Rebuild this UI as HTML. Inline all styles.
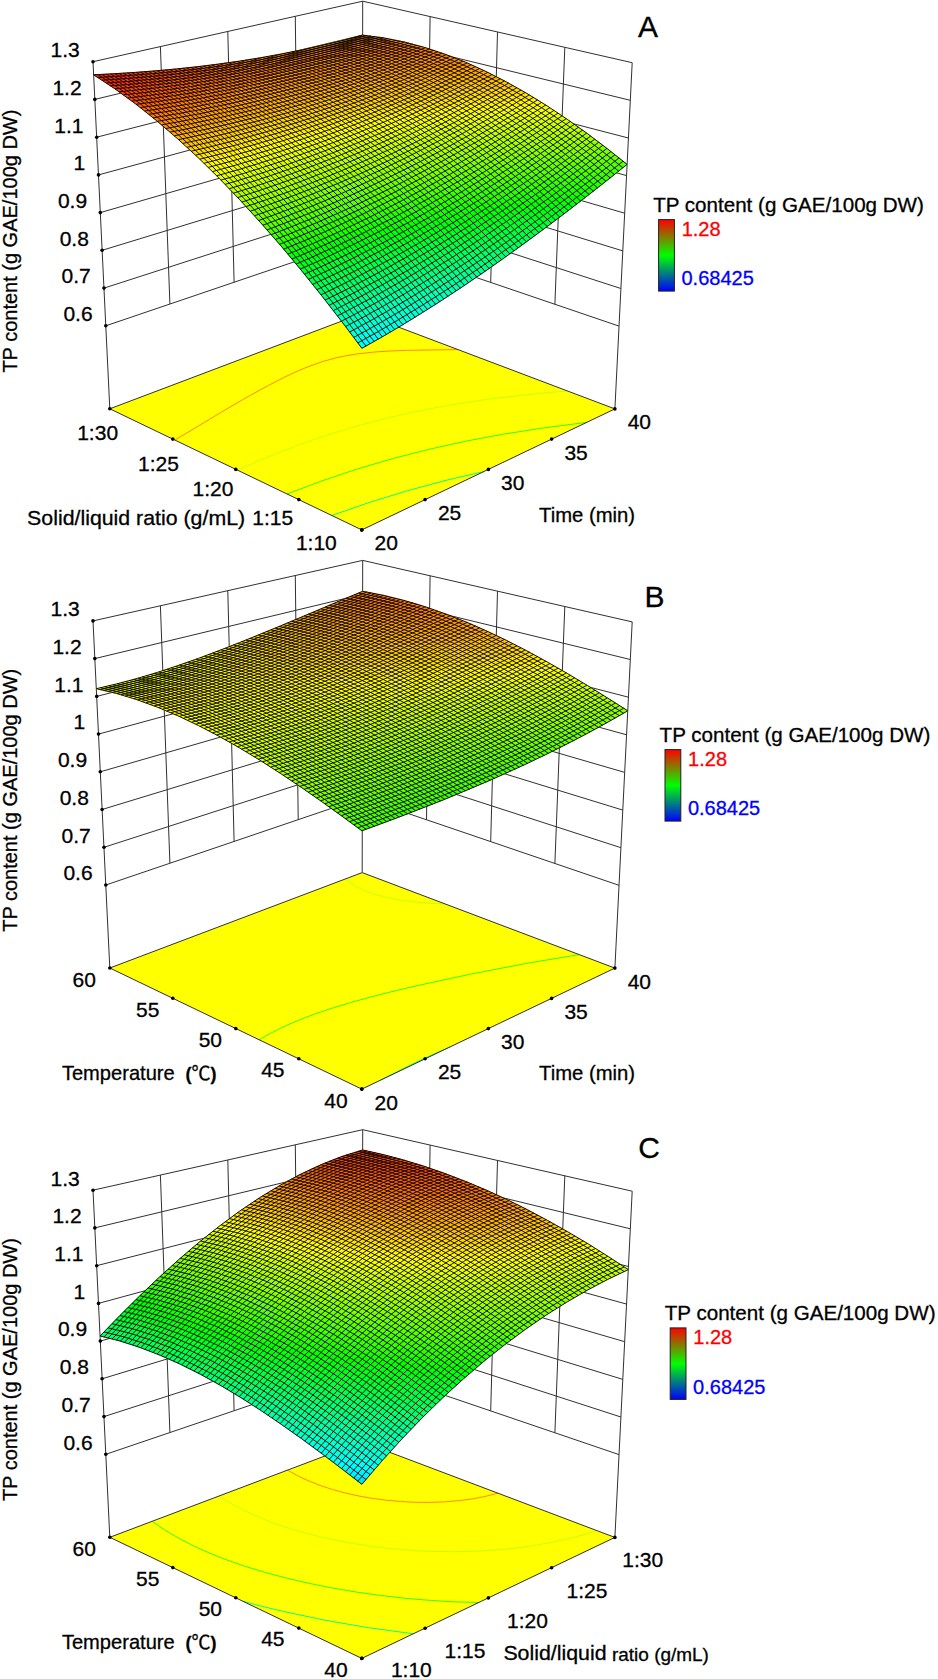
<!DOCTYPE html><html><head><meta charset="utf-8"><style>html,body{margin:0;padding:0;background:#fff}svg{display:block}text{font-family:"Liberation Sans",Arial,sans-serif;stroke:currentColor;stroke-width:0.3px}</style></head><body>
<svg width="938" height="1679" viewBox="0 0 938 1679">
<rect width="938" height="1679" fill="#fff"/>
<path d="M105.8 325.8L362.3 238.7L619 326.1M104 288.1L362.4 204.8L620.9 288.5M102.1 250.3L362.4 170.9L622.8 250.9M100.3 212.6L362.5 136.9L624.7 213.2M98.5 174.9L362.5 103L626.6 175.6M96.7 137.2L362.6 69.1L628.4 138M94.8 99.4L362.6 35.1L630.3 100.3M93 61.7L362.7 1.2L632.2 62.7M169.9 304L160.4 46.6M554.9 304.3L564.8 47.3M234.1 282.3L227.8 31.5M490.7 282.4L497.5 32M298.2 260.5L295.3 16.3M426.5 260.6L430.1 16.6M109.8 408.8L93 61.7M362.2 313.4L362.7 1.2M614.9 408.9L632.2 62.7" fill="none" stroke="#303030" stroke-width="1"/>
<polygon points="361.8,529.9 614.9,408.9 362.2,313.4 109.8,408.8" fill="#ffff00"/>
<polyline points="458.1,349.6 407.4,350.3 388.1,351.1 373.7,352.1 357.2,353.9 345.3,355.9 334.5,358.2 322.2,361.7 311,365.6 298.6,370.6 285,376.9 268.4,385.4 248.8,396.2 228,408.2 174.9,440.1" fill="none" stroke="#ff8c00" stroke-width="1"/>
<polyline points="567.2,390.9 519.3,395.5 495,398.4 471.9,401.6 449.7,405.2 428.6,409 408.3,413.2 388.9,417.6 370.3,422.4 352.4,427.4 332.7,433.4 313.7,439.7 295.4,446.3 275.5,453.9 256.2,461.9 237.4,470.1" fill="none" stroke="#c8ff00" stroke-width="1"/>
<polyline points="586.7,422.4 542.4,428.1 503.1,434.2 466.2,441.1 428.6,449.4 393.4,458.4 357.6,468.9 321.3,481.1 287,494" fill="none" stroke="#30ff00" stroke-width="1"/>
<polyline points="484.1,471.5 444,480.8 406.2,491.1 368,502.9 331.8,515.5" fill="none" stroke="#00ff8c" stroke-width="1"/>
<polygon points="361.8,529.9 614.9,408.9 362.2,313.4 109.8,408.8" fill="none" stroke="#303030" stroke-width="1"/>
<g fill="#000"><circle cx="105.8" cy="325.8" r="1.8"/><circle cx="104" cy="288.1" r="1.8"/><circle cx="102.1" cy="250.3" r="1.8"/><circle cx="100.3" cy="212.6" r="1.8"/><circle cx="98.5" cy="174.9" r="1.8"/><circle cx="96.7" cy="137.2" r="1.8"/><circle cx="94.8" cy="99.4" r="1.8"/><circle cx="93" cy="61.7" r="1.8"/><circle cx="361.8" cy="529.9" r="1.8"/><circle cx="361.8" cy="529.9" r="1.8"/><circle cx="298.8" cy="499.6" r="1.8"/><circle cx="425.1" cy="499.6" r="1.8"/><circle cx="235.8" cy="469.4" r="1.8"/><circle cx="488.4" cy="469.4" r="1.8"/><circle cx="172.8" cy="439.1" r="1.8"/><circle cx="551.6" cy="439.1" r="1.8"/><circle cx="109.8" cy="408.8" r="1.8"/><circle cx="614.9" cy="408.9" r="1.8"/></g>
<path d="M363.7 346.6L366.7 345.7L361.9 348.3L361.2 347.3Z" fill="#00f1ff" stroke="#00f1ff" stroke-width="0.6" fill-rule="evenodd"/>
<path d="M359.7 345.4L356.8 341.5L391.7 331.3L366.7 345.7L361.2 347.3Z" fill="#00fffc" stroke="#00fffc" stroke-width="0.6" fill-rule="evenodd"/>
<path d="M355.4 339.6L352.4 335.6L382.8 326.7L412.7 318.7L391.7 331.3L356.8 341.5Z" fill="#00ffeb" stroke="#00ffeb" stroke-width="0.6" fill-rule="evenodd"/>
<path d="M351 333.8L348 329.8L388.7 318L431.1 307.2L412.7 318.7L382.8 326.7L352.4 335.6Z" fill="#00ffda" stroke="#00ffda" stroke-width="0.6" fill-rule="evenodd"/>
<path d="M346.7 328L343.5 323.9L394.6 309.3L447.8 296.4L431.1 307.2L388.7 318L348 329.8Z" fill="#00ffc9" stroke="#00ffc9" stroke-width="0.6" fill-rule="evenodd"/>
<path d="M342.3 322.3L339.1 318L349 315L376.9 307L406 299.4L463.2 286.2L447.8 296.4L394.6 309.3L343.5 323.9Z" fill="#00ffb7" stroke="#00ffb7" stroke-width="0.6" fill-rule="evenodd"/>
<path d="M338 316.6L334.5 312.2L356.9 305.5L385.3 297.7L414.8 290.2L445.7 283.1L477.5 276.5L463.2 286.2L430.7 293.4L400.6 300.7L369.2 309.2L339.1 318Z" fill="#00ffa6" stroke="#00ffa6" stroke-width="0.6" fill-rule="evenodd"/>
<path d="M333.6 310.9L330 306.3L365 296L396.4 287.7L426.5 280.5L458.1 273.6L491 267.2L477.5 276.5L440 284.4L403.9 292.9L369.7 301.9L334.5 312.2Z" fill="#00ff95" stroke="#00ff95" stroke-width="0.6" fill-rule="evenodd"/>
<path d="M329.2 305.3L325.4 300.4L370.5 287.4L402.3 279.2L435.6 271.5L470.7 264.3L503.9 258.1L491 267.2L455.1 274.2L418.2 282.4L372.7 293.9L330 306.3Z" fill="#00ff84" stroke="#00ff84" stroke-width="0.6" fill-rule="evenodd"/>
<path d="M324.8 299.7L320.8 294.5L373.5 279.5L408.2 270.8L442 263.3L477.5 256.2L516.1 249.4L503.9 258.1L461.8 266L418.8 275.3L370.5 287.4L325.4 300.4Z" fill="#00ff73" stroke="#00ff73" stroke-width="0.6" fill-rule="evenodd"/>
<path d="M320.4 294.1L316.1 288.7L345.6 279.9L376.4 271.6L411.4 263.1L448.4 255.1L487.5 247.6L527.8 240.9L516.1 249.4L465.5 258.5L419.3 268.2L376.1 278.8L347.9 286.5L320.8 294.5Z" fill="#00ff62" stroke="#00ff62" stroke-width="0.6" fill-rule="evenodd"/>
<path d="M316 288.6L311.4 282.8L345.8 272.6L379.3 263.7L417.4 254.7L457.8 246.3L497.7 239.1L539.1 232.5L527.8 240.9L472.2 250.4L419.8 261.2L368.6 273.6Z" fill="#00ff51" stroke="#00ff51" stroke-width="0.6" fill-rule="evenodd"/>
<path d="M309.4 280.3L306.7 276.9L351 264L398.4 252.1L434.8 244L470.4 237.1L508 230.7L550 224.4L539.1 232.5L488.2 240.7L437.3 250.4L406.3 257.2L374.1 265.1L343.3 273.3L311.4 282.8Z" fill="#00ff40" stroke="#00ff40" stroke-width="0.6" fill-rule="evenodd"/>
<path d="M305 274.9L301.8 271L348.5 257.4L398.6 245L438.1 236.5L477 229.1L518.5 222.4L560.6 216.4L550 224.4L492 233.3L434.8 244L401.1 251.4L369 259.2L338.4 267.5L306.7 276.9Z" fill="#00ff2e" stroke="#00ff2e" stroke-width="0.6" fill-rule="evenodd"/>
<path d="M300.6 269.5L297 265.1L346 250.9L398.7 237.9L438.3 229.5L480.6 221.7L525.9 214.6L570.9 208.6L560.6 216.4L495.9 225.9L435.2 237L401.3 244.3L366.5 252.7L333.4 261.6L301.8 271Z" fill="#00ff1d" stroke="#00ff1d" stroke-width="0.6" fill-rule="evenodd"/>
<path d="M296.2 264.1L292.1 259.2L318.5 251.3L345.9 243.7L398.8 230.8L441.5 222L484.2 214.4L530 207.4L580.9 200.9L570.9 208.6L532.7 213.7L496.4 219.1L462.2 225L429.6 231.2L398.7 237.9L371.8 244.2L333.4 254.3L297 265.1Z" fill="#00ff0c" stroke="#00ff0c" stroke-width="0.6" fill-rule="evenodd"/>
<path d="M291.8 258.8L287.1 253.3L315.8 244.6L343.2 237.1L371.7 229.9L398.7 223.7L444.6 214.4L490.9 206.5L537.5 199.8L590.6 193.4L580.9 200.9L540.3 206L500.2 211.8L462.5 218.1L429.8 224.2L396 231.4L363.9 239L328.3 248.5L292.1 259.2Z" fill="#05ff00" stroke="#05ff00" stroke-width="0.6" fill-rule="evenodd"/>
<path d="M285.1 250.9L282.1 247.3L305.8 240.1L358.3 226L409.8 214.3L453.7 205.9L497.7 198.7L548.7 191.8L600.1 185.9L590.6 193.4L548 198.4L510.5 203.5L475.1 209.1L441.6 215L401.5 223.1L361.2 232.5L323.2 242.6L287.1 253.3Z" fill="#16ff00" stroke="#16ff00" stroke-width="0.6" fill-rule="evenodd"/>
<path d="M280.7 245.6L277 241.4L295.8 235.6L324.9 227.3L352.8 220.1L379.2 213.8L409.6 207.3L456.7 198.5L504.6 191L552.8 184.7L609.4 178.6L600.1 185.9L555.8 190.9L514.2 196.3L475.3 202.2L438.7 208.6L398.6 216.7L358.3 226L320.4 236L282.1 247.3Z" fill="#27ff00" stroke="#27ff00" stroke-width="0.6" fill-rule="evenodd"/>
<path d="M276.2 240.4L271.9 235.4L285.8 231.1L314.6 222.7L344.6 214.8L376.1 207.3L406.4 200.8L453.6 192.1L504.8 184.2L557 177.7L618.4 171.4L609.4 178.6L552.8 184.7L504.6 191L456.7 198.5L412.4 206.7L381.9 213.2L352.8 220.1L315.1 230L277 241.4Z" fill="#38ff00" stroke="#38ff00" stroke-width="0.6" fill-rule="evenodd"/>
<path d="M271.8 235.3L266.7 229.5L273.6 227.3L306.7 217.5L338.9 208.9L370.2 201.4L403.2 194.3L453.3 185.2L508.2 177L568.6 169.9L627.1 164.4L618.4 171.4L557 177.7L504.8 184.2L456.6 191.6L409.3 200.2L373.4 207.9L339.5 216.1L307.3 224.8Z" fill="#49ff00" stroke="#49ff00" stroke-width="0.6" fill-rule="evenodd"/>
<path d="M265.1 227.7L261.4 223.5L310.8 208.8L340.7 201L369.5 194.2L399.7 187.8L431.7 181.9L471.9 175.3L511.6 169.9L557.9 164.5L603.8 159.9L619.8 158.5L626.9 164.3L572.3 169.5L525.4 174.8L478.5 181.2L438.1 187.8L394.7 196L351.7 205.7L309.1 216.8L266.7 229.5Z" fill="#5bff00" stroke="#5bff00" stroke-width="0.6" fill-rule="evenodd"/>
<path d="M260.7 222.6L256 217.5L293.1 206.2L324.7 197.6L355.4 190.1L387.8 183L422.1 176.5L458.7 170.4L501.3 164.4L547.1 159L592.7 154.6L612.6 152.8L619.8 158.5L565.4 163.7L515.1 169.4L468.7 175.8L425.7 182.9L385.8 190.7L348.4 199.1L305.9 210.2L261.4 223.5Z" fill="#6cff00" stroke="#6cff00" stroke-width="0.6" fill-rule="evenodd"/>
<path d="M254 215.2L250.6 211.5L277.9 203L304 195.5L331.2 188.4L359.6 181.7L389.6 175.3L421.3 169.4L461.3 163L500.9 157.7L547.2 152.4L593.2 148.1L605.2 147L612.6 152.8L558.2 157.9L511.5 163.1L468.3 169L428 175.4L385 183.6L339.8 193.8L297.8 204.9L256 217.5Z" fill="#7dff00" stroke="#7dff00" stroke-width="0.6" fill-rule="evenodd"/>
<path d="M249.5 210.3L245 205.4L288.5 192.1L317.5 184.3L347.9 176.8L377.3 170.4L411.4 164L447.7 158L490.2 152.2L536 147L581.7 142.6L597.6 141.3L605.2 147L550.9 152.1L504.4 157.3L461.3 163L418.3 170L378.5 177.6L341.4 185.9L296.8 197.5L250.6 211.5Z" fill="#8eff00" stroke="#8eff00" stroke-width="0.6" fill-rule="evenodd"/>
<path d="M245 205.4L239.4 199.4L266.3 190.9L299 181.4L331.1 173.2L365 165.5L398.4 158.9L434.2 152.9L475.9 147.1L517.5 142.2L562.2 137.8L589.9 135.5L597.6 141.3L543.4 146.2L493.6 151.8L447.7 158L405.5 165L363.8 173.3L324.9 182.4L286.1 192.8Z" fill="#9fff00" stroke="#9fff00" stroke-width="0.6" fill-rule="evenodd"/>
<path d="M238.3 198.2L233.6 193.3L276.3 180L307.1 171.5L337.1 164.1L366.1 157.7L396.9 151.8L435.9 145.4L474.8 140.2L516.8 135.5L562 131.3L581.9 129.6L589.9 135.5L535.7 140.3L486 145.8L443.5 151.5L401.3 158.4L365 165.5L328.5 173.8L284.8 185.4L239.4 199.4Z" fill="#b0ff00" stroke="#b0ff00" stroke-width="0.6" fill-rule="evenodd"/>
<path d="M231.6 191.1L227.8 187.1L254.1 178.6L281.5 170.5L310.1 162.8L337.7 156.1L364.2 150.4L395 144.6L431.1 138.9L470 133.7L512.2 129.1L561.7 124.7L573.7 123.8L581.9 129.6L527.8 134.4L481.5 139.4L439 145L399.7 151.3L358 159.4L316.9 168.9L276.3 180L233.6 193.3Z" fill="#c1ff00" stroke="#c1ff00" stroke-width="0.6" fill-rule="evenodd"/>
<path d="M227.1 186.4L221.8 181L259 169L288.8 160.4L320.3 152.3L351.2 145.3L381.3 139.4L416.6 133.6L454.9 128.4L496.4 123.7L541.3 119.7L565.1 117.8L573.7 123.8L519.5 128.4L473.4 133.3L427.9 139.3L389.2 145.7L350.8 153.2L315 161.6L272.3 173.2L227.8 187.1Z" fill="#d2ff00" stroke="#d2ff00" stroke-width="0.6" fill-rule="evenodd"/>
<path d="M220.3 179.5L215.7 174.8L261.3 160.1L291.2 151.6L320.3 144.2L348.6 137.9L378.7 132.1L414.1 126.4L452.7 121.3L494.6 116.9L536.3 113.3L556.3 111.9L565.1 117.8L514.7 122L464.9 127.1L422.8 132.7L384.2 138.9L348.5 145.9L312.9 154.1L268 166.3L221.8 181Z" fill="#e3ff00" stroke="#e3ff00" stroke-width="0.6" fill-rule="evenodd"/>
<path d="M213.6 172.7L209.4 168.6L234.8 160L261 151.8L288.4 144L317.3 136.7L345.5 130.4L372.8 125.2L408.1 119.5L443.3 115L485.2 110.6L530.9 106.9L547 105.8L556.3 111.9L505.7 115.9L459.4 120.5L417.2 125.9L378.7 132.1L338.1 140.2L298.3 149.7L256.8 161.5L215.7 174.8Z" fill="#f5ff00" stroke="#f5ff00" stroke-width="0.6" fill-rule="evenodd"/>
<path d="M209.1 168.3L203 162.3L236.5 150.9L269.3 140.8L299.4 132.6L328.9 125.6L360.7 119.2L395.4 113.4L430.1 108.9L468 104.9L513.1 101.3L537.2 99.6L547 105.8L492.6 110L446.7 114.6L405 120L364.4 126.7L327.4 134.3L290.8 143.4L256.6 153.2L209.4 168.6Z" fill="#fff800" stroke="#fff800" stroke-width="0.6" fill-rule="evenodd"/>
<path d="M202.3 161.7L196.4 156L233.5 143.2L265.8 133L295.5 124.8L324.8 117.8L353.6 112L385 106.7L419.4 102.2L457.3 98.4L502.6 94.9L526.8 93.4L537.2 99.6L482.6 103.6L436.7 108.1L398.4 113L360.7 119.2L323.9 126.7L287.6 135.7L247.2 147.5L203 162.3Z" fill="#ffe700" stroke="#ffe700" stroke-width="0.6" fill-rule="evenodd"/>
<path d="M195.6 155.2L189.6 149.6L228 136L259.6 125.8L288.7 117.5L317.3 110.4L345.7 104.5L376.7 99.3L411.1 94.9L445.6 91.6L491.2 88.3L515.6 86.9L526.8 93.4L471.9 97.1L426.1 101.5L388 106.3L350.9 112.5L317.3 119.5L281.6 128.5L239.8 141.1L196.4 156Z" fill="#ffd600" stroke="#ffd600" stroke-width="0.6" fill-rule="evenodd"/>
<path d="M188.8 148.9L182.6 143.2L224 128L255 117.7L283.3 109.3L311.2 102.2L339.1 96.3L370 91.2L401.4 87.3L436.2 84.2L478.6 81.5L503.4 80.3L515.6 86.9L464 90.1L421.1 93.9L382.7 98.5L345.7 104.5L312.4 111.6L277.3 120.6L234.2 133.9L189.6 149.6Z" fill="#ffc500" stroke="#ffc500" stroke-width="0.6" fill-rule="evenodd"/>
<path d="M182 142.7L175.3 136.7L211.7 122.7L245.3 110.8L276.7 100.9L303.6 93.6L330.7 87.6L358.3 83L389.5 79.2L424.9 76.4L468.4 74.1L489.7 73.3L503.4 80.3L451.1 83.1L408 86.6L370 91.2L336.5 96.8L301.7 104.5L267.8 113.8L228.1 126.6L182.6 143.2Z" fill="#ffb400" stroke="#ffb400" stroke-width="0.6" fill-rule="evenodd"/>
<path d="M175.2 136.6L167.8 130.1L191.8 120.3L234.9 103.6L268.3 92L297.9 83.1L323.9 77L348.4 72.9L380.5 69.5L418 67.3L464.7 65.9L473.6 65.7L489.7 73.3L436.3 75.7L396.2 78.6L361.2 82.6L328.1 88.1L296.6 95.4L261.8 105.4L223.4 118.4Z" fill="#ffa300" stroke="#ffa300" stroke-width="0.6" fill-rule="evenodd"/>
<path d="M166.2 128.7L159.9 123.4L225.3 95.4L276.3 74.3L303.9 64.1L321.1 59.4L335.4 57.4L354.2 56.6L453 57.1L473.6 65.7L422 67.2L384 69.2L351.4 72.5L321.4 77.5L295.7 83.7L266.3 92.6L223.5 107.9L167.8 130.1ZM297.4 50.8L329.2 43.7L361.7 35.4L341.3 42.9L327.2 47.1L314.8 49.5Z" fill="#ff9200" stroke="#ff9200" stroke-width="0.6" fill-rule="evenodd"/>
<path d="M159.4 122.9L151.7 116.6L200 93.6L215.1 85.8L227.1 78.9L235.6 73L240.4 68.2L241.3 66.3L241.6 64.2L240.9 62.6L239.6 61.1L268.9 56.3L297.4 50.8L311.8 49.9L322.6 48.2L339.4 43.6L362.6 35.1L385 38.1L407.3 42.7L429.6 48.9L453 57.1L354.2 56.6L332.2 57.7L318.7 59.9L301.9 64.7L276.3 74.3L225.3 95.4L159.9 123.4Z" fill="#ff8000" stroke="#ff8000" stroke-width="0.6" fill-rule="evenodd"/>
<path d="M150.3 115.5L143 109.6L172.3 94.2L184.1 87.3L191.8 82.2L197.8 77.4L202.4 72.5L203.9 69.6L204.2 65.9L239.6 61.1L241.2 63.1L241.6 65.2L241.2 66.8L238.6 70.4L233.2 74.9L223.5 81.1L200 93.6L169.5 108.3L151.7 116.6Z" fill="#ff6f00" stroke="#ff6f00" stroke-width="0.6" fill-rule="evenodd"/>
<path d="M141.2 108.3L133.7 102.5L152.5 91.4L164.1 83.2L171.9 75.8L174.5 71.7L175.3 69L204.2 65.9L203.9 69.7L201.2 74.1L195.7 79.2L189.2 84L172.3 94.2L147.2 107.5L143 109.6Z" fill="#ff5e00" stroke="#ff5e00" stroke-width="0.6" fill-rule="evenodd"/>
<path d="M132.2 101.3L123.7 95.1L134 88.2L141.2 82.4L146.8 76.6L149.9 71.3L175.3 69L174 72.7L171.6 76.3L167.2 80.7L161.6 85.2L148.9 93.6L133.7 102.5Z" fill="#ff4d00" stroke="#ff4d00" stroke-width="0.6" fill-rule="evenodd"/>
<path d="M123.1 94.6L112.9 87.4L122 79.3L126.6 73L149.9 71.3L146.8 76.6L141.2 82.4L128 92.3L123.7 95.1Z" fill="#ff3c00" stroke="#ff3c00" stroke-width="0.6" fill-rule="evenodd"/>
<path d="M111.8 86.7L100.7 79.3L104.7 74.3L126.6 73L123.4 77.6L118.4 82.8L112.9 87.4Z" fill="#ff2b00" stroke="#ff2b00" stroke-width="0.6" fill-rule="evenodd"/>
<path d="M100.4 79.1L93.6 74.8L104.7 74.3L101 79.1Z" fill="#ff1a00" stroke="#ff1a00" stroke-width="0.6" fill-rule="evenodd"/>
<path d="M361.9 348.3L341.8 321.6L321.6 295.6L301.3 270.3L280.9 245.8L260.3 222.3L239.7 199.7L219 178.1L198.2 157.7L177.3 138.5L156.4 120.5L135.5 103.8L114.6 88.6L93.6 74.8M361.9 348.3L382 337L402.2 325.1L422.3 312.7L442.6 299.8L462.8 286.5L483.1 272.7L503.5 258.4L523.9 243.7L544.4 228.6L565 213.1L585.6 197.2L606.3 181L627.1 164.4M366 346.1L345.9 319.5L325.7 293.6L305.4 268.5L285 244.2L264.5 220.8L243.8 198.3L223.1 176.9L202.3 156.7L181.5 137.6L160.6 119.8L139.7 103.3L118.8 88.2L97.9 74.6M357.8 342.9L378 331.7L398.1 319.9L418.3 307.7L438.5 295L458.8 281.8L479.1 268.2L499.5 254.1L519.9 239.6L540.4 224.6L561 209.3L581.6 193.6L602.3 177.6L623.1 161.1M370.1 343.8L350 317.4L329.8 291.7L309.5 266.7L289.1 242.5L268.6 219.3L248 197L227.3 175.7L206.5 155.6L185.7 136.7L164.8 119.1L143.9 102.8L123 87.9L102.1 74.4M353.8 337.4L373.9 326.4L394.1 314.8L414.3 302.7L434.5 290.2L454.8 277.2L475.1 263.7L495.5 249.8L515.9 235.5L536.4 220.7L556.9 205.6L577.6 190L598.3 174.2L619.1 157.9M374.2 341.5L354.1 315.2L333.9 289.7L313.7 264.8L293.2 240.8L272.7 217.7L252.1 195.6L231.5 174.5L210.7 154.6L189.9 135.8L169 118.4L148.1 102.2L127.2 87.5L106.4 74.2M349.7 332L369.8 321.1L390 309.7L410.2 297.8L430.4 285.4L450.7 272.6L471.1 259.3L491.4 245.5L511.9 231.4L532.3 216.8L552.9 201.8L573.5 186.5L594.2 170.8L615 154.7M378.2 339.1L358.2 313.1L338.1 287.6L317.8 263L297.4 239.1L276.9 216.2L256.3 194.2L235.6 173.3L214.9 153.5L194.1 135L173.2 117.6L152.3 101.7L131.5 87.1L110.6 73.9M345.6 326.6L365.8 315.8L385.9 304.6L406.2 292.9L426.4 280.7L446.7 268L467 254.8L487.4 241.3L507.8 227.3L528.3 212.9L548.9 198.1L569.5 183L590.2 167.4L611 151.5M382.3 336.8L362.3 310.9L342.2 285.6L321.9 261.1L301.5 237.4L281 214.6L260.4 192.8L239.8 172.1L219 152.5L198.3 134L177.4 116.9L156.6 101.1L135.7 86.7L114.8 73.7M341.5 321.2L361.7 310.6L381.9 299.5L402.1 288L422.3 275.9L442.6 263.4L463 250.5L483.3 237.1L503.8 223.3L524.3 209.1L544.8 194.4L565.5 179.5L586.2 164.1L606.9 148.4M386.4 334.4L366.4 308.6L346.3 283.5L326 259.2L305.6 235.7L285.2 213L264.6 191.4L243.9 170.8L223.2 151.4L202.4 133.1L181.6 116.1L160.8 100.5L139.9 86.2L119.1 73.5M337.4 315.9L357.6 305.4L377.8 294.5L398 283.1L418.3 271.2L438.6 258.9L458.9 246.1L479.3 232.9L499.7 219.3L520.2 205.2L540.8 190.8L561.4 176L582.1 160.8L602.9 145.3M390.5 332L370.5 306.4L350.4 281.5L330.1 257.3L309.8 233.9L289.3 211.4L268.8 190L248.1 169.6L227.4 150.3L206.6 132.2L185.8 115.4L165 99.9L144.1 85.8L123.3 73.2M333.3 310.6L353.5 300.3L373.7 289.5L394 278.3L414.2 266.6L434.5 254.4L454.9 241.8L475.3 228.7L495.7 215.3L516.2 201.4L536.7 187.2L557.4 172.5L578.1 157.5L598.8 142.2M394.6 329.6L374.6 304.2L354.5 279.4L334.3 255.3L313.9 232.1L293.5 209.8L272.9 188.5L252.3 168.3L231.6 149.2L210.8 131.2L190 114.6L169.2 99.3L148.3 85.4L127.5 72.9M329.2 305.3L349.4 295.2L369.6 284.5L389.9 273.5L410.2 261.9L430.5 249.9L450.8 237.5L471.2 224.6L491.6 211.3L512.1 197.7L532.7 183.6L553.3 169.1L574 154.3L594.8 139.1M398.7 327.2L378.7 301.9L358.6 277.2L338.4 253.4L318 230.3L297.6 208.2L277.1 187.1L256.4 167L235.7 148L215 130.3L194.2 113.8L173.4 98.7L152.6 84.9L131.7 72.6M325.1 300L345.3 290.1L365.5 279.6L385.8 268.7L406.1 257.3L426.4 245.5L446.7 233.2L467.1 220.5L487.6 207.4L508.1 193.9L528.6 180L549.3 165.8L569.9 151.1L590.7 136.1M402.8 324.7L382.8 299.6L362.7 275.1L342.5 251.4L322.2 228.5L301.7 206.6L281.2 185.6L260.6 165.7L239.9 146.9L219.2 129.3L198.4 113L177.6 98L156.8 84.5L136 72.3M321 294.8L341.2 285L361.5 274.7L381.7 263.9L402 252.7L422.3 241.1L442.7 229L463.1 216.5L483.5 203.6L504 190.2L524.6 176.5L545.2 162.4L565.9 147.9L586.6 133.1M406.9 322.2L386.9 297.3L366.8 273L346.6 249.4L326.3 226.7L305.9 204.9L285.4 184.1L264.8 164.3L244.1 145.7L223.4 128.3L202.6 112.2L181.8 97.4L161 84L140.2 72M316.9 289.6L337.1 279.9L357.4 269.8L377.6 259.2L397.9 248.2L418.2 236.7L438.6 224.8L459 212.4L479.5 199.7L500 186.6L520.5 173L541.1 159.1L561.8 144.8L582.6 130.1M411 319.7L391 294.9L370.9 270.8L350.7 247.4L330.4 224.9L310 203.2L289.5 182.6L268.9 163L248.3 144.6L227.6 127.3L206.8 111.4L186 96.7L165.2 83.5L144.4 71.7M312.7 284.4L333 274.9L353.3 265L373.5 254.5L393.8 243.7L414.2 232.4L434.5 220.6L454.9 208.5L475.4 195.9L495.9 182.9L516.5 169.6L537.1 155.8L557.7 141.7L578.5 127.2M415.1 317.2L395.1 292.6L375.1 268.6L354.9 245.4L334.6 223L314.2 201.5L293.7 181.1L273.1 161.6L252.4 143.4L231.7 126.3L211 110.5L190.2 96.1L169.4 83L148.6 71.4M308.6 279.3L328.9 270L349.1 260.1L369.4 249.9L389.7 239.2L410.1 228L430.5 216.5L450.9 204.5L471.3 192.1L491.8 179.3L512.4 166.1L533 152.6L553.7 138.6L574.4 124.3M419.2 314.7L399.2 290.2L379.2 266.4L359 243.3L338.7 221.1L318.3 199.8L297.8 179.5L277.2 160.3L256.6 142.2L235.9 125.3L215.2 109.7L194.4 95.4L173.6 82.5L152.9 71.1M304.5 274.2L324.7 265L345 255.4L365.3 245.3L385.6 234.7L406 223.8L426.4 212.4L446.8 200.6L467.2 188.4L487.7 175.7L508.3 162.7L528.9 149.3L549.6 135.6L570.3 121.4M423.3 312.1L403.4 287.8L383.3 264.1L363.1 241.3L342.8 219.2L322.4 198.1L302 178L281.4 158.9L260.8 141L240.1 124.2L219.4 108.8L198.6 94.7L177.8 82L157.1 70.7M300.3 269.1L320.6 260.1L340.9 250.6L361.2 240.7L381.5 230.3L401.9 219.5L422.3 208.3L442.7 196.7L463.2 184.6L483.7 172.2L504.2 159.4L524.8 146.2L545.5 132.6L566.3 118.6M427.4 309.5L407.5 285.4L387.4 261.9L367.2 239.2L347 217.3L326.6 196.3L306.1 176.4L285.6 157.5L265 139.7L244.3 123.2L223.6 107.9L202.8 94L182.1 81.4L161.3 70.3M296.2 264.1L316.5 255.2L336.8 245.9L357.1 236.1L377.4 225.9L397.8 215.3L418.2 204.3L438.6 192.8L459.1 181L479.6 168.7L500.1 156.1L520.8 143L541.4 129.6L562.2 115.8M431.5 306.9L411.6 282.9L391.5 259.6L371.4 237.1L351.1 215.4L330.7 194.6L310.3 174.8L289.7 156.1L269.1 138.5L248.5 122.1L227.7 107L207 93.2L186.3 80.9L165.5 70M292 259.1L312.4 250.4L332.7 241.2L353 231.6L373.3 221.6L393.7 211.1L414.1 200.3L434.5 189L455 177.3L475.5 165.2L496.1 152.8L516.7 139.9L537.3 126.7L558.1 113.1M435.6 304.3L415.7 280.5L395.7 257.3L375.5 235L355.2 213.4L334.9 192.8L314.4 173.2L293.9 154.6L273.3 137.2L252.6 121L231.9 106.1L211.2 92.5L190.5 80.3L169.7 69.6M287.9 254.1L308.2 245.6L328.5 236.6L348.9 227.1L369.2 217.3L389.6 207L410 196.3L430.4 185.2L450.9 173.7L471.4 161.8L492 149.5L512.6 136.8L533.2 123.8L554 110.4M439.7 301.7L419.8 278L399.8 255L379.6 232.8L359.4 211.5L339 191L318.6 171.6L298.1 153.2L277.5 135.9L256.8 119.9L236.1 105.2L215.4 91.7L194.7 79.7L173.9 69.2M283.7 249.2L304.1 240.8L324.4 232L344.7 222.7L365.1 213L385.5 202.9L405.9 192.4L426.3 181.5L446.8 170.1L467.3 158.4L487.9 146.3L508.5 133.8L529.1 120.9L549.9 107.7M443.8 299L423.9 275.5L403.9 252.7L383.8 230.7L363.5 209.5L343.2 189.2L322.7 169.9L302.2 151.7L281.6 134.7L261 118.8L240.3 104.2L219.6 91L198.9 79.1L178.2 68.8M279.6 244.3L299.9 236.1L320.3 227.4L340.6 218.3L361 208.8L381.4 198.9L401.8 188.5L422.2 177.8L442.7 166.6L463.2 155.1L483.8 143.1L504.4 130.8L525 118.1L545.8 105M447.9 296.3L428 273L408 250.4L387.9 228.5L367.7 207.5L347.3 187.4L326.9 168.3L306.4 150.2L285.8 133.3L265.2 117.7L244.5 103.3L223.8 90.2L203.1 78.5L182.4 68.3M275.4 239.5L295.8 231.4L316.1 222.9L336.5 213.9L356.9 204.6L377.2 194.8L397.7 184.7L418.1 174.1L438.6 163.1L459.1 151.8L479.7 140L500.3 127.9L520.9 115.3L541.7 102.4M452.1 293.6L432.2 270.5L412.2 248L392 226.3L371.8 205.5L351.5 185.5L331 166.6L310.5 148.7L290 132L269.3 116.5L248.7 102.3L228 89.4L207.3 77.9L186.6 67.9M271.2 234.7L291.6 226.7L312 218.4L332.3 209.6L352.7 200.4L373.1 190.9L393.5 180.9L414 170.5L434.5 159.7L455 148.5L475.6 136.9L496.2 124.9L516.8 112.6L537.6 99.9M456.2 290.9L436.3 267.9L416.3 245.6L396.2 224.1L375.9 203.4L355.6 183.7L335.2 164.9L314.7 147.2L294.1 130.7L273.5 115.4L252.9 101.3L232.2 88.6L211.5 77.3L190.8 67.4M267.1 229.9L287.4 222.1L307.8 213.9L328.2 205.3L348.6 196.3L369 186.9L389.4 177.1L409.9 166.9L430.4 156.3L450.9 145.3L471.4 133.9L492.1 122.1L512.7 109.9L533.4 97.3M460.3 288.2L440.4 265.4L420.4 243.2L400.3 221.9L380.1 201.4L359.8 181.8L339.4 163.2L318.9 145.7L298.3 129.3L277.7 114.2L257.1 100.3L236.4 87.8L215.7 76.6L195 67M262.9 225.2L283.3 217.5L303.7 209.5L324 201.1L344.4 192.2L364.9 183L385.3 173.4L405.8 163.3L426.2 152.9L446.8 142.1L467.3 130.8L487.9 119.2L508.6 107.2L529.3 94.9M464.4 285.4L444.5 262.8L424.5 240.8L404.4 219.6L384.2 199.3L363.9 179.9L343.5 161.5L323 144.2L302.5 128L281.9 113L261.2 99.3L240.6 86.9L219.9 76L199.2 66.5M258.7 220.5L279.1 213L299.5 205.1L319.9 196.9L340.3 188.2L360.7 179.1L381.2 169.7L401.6 159.8L422.1 149.6L442.6 138.9L463.2 127.9L483.8 116.4L504.5 104.6L525.2 92.4M468.5 282.6L448.7 260.2L428.7 238.4L408.6 217.4L388.4 197.2L368.1 178L347.7 159.8L327.2 142.6L306.7 126.6L286.1 111.8L265.4 98.3L244.8 86.1L224.1 75.3L203.4 66M254.5 215.8L274.9 208.5L295.3 200.8L315.7 192.7L336.2 184.2L356.6 175.3L377 166L397.5 156.4L418 146.3L438.5 135.8L459.1 124.9L479.7 113.7L500.4 102.1L521.1 90M472.7 279.8L452.8 257.5L432.8 235.9L412.7 215.1L392.5 195.1L372.2 176.1L351.8 158L331.4 141L310.8 125.2L290.2 110.6L269.6 97.2L248.9 85.2L228.3 74.6L207.6 65.5M250.3 211.2L270.7 204L291.2 196.5L311.6 188.6L332 180.3L352.4 171.6L372.9 162.4L393.4 152.9L413.9 143L434.4 132.7L455 122.1L475.6 111L496.2 99.5L516.9 87.7M476.8 277L456.9 254.9L436.9 233.5L416.9 212.8L396.7 193L376.4 174.1L356 156.2L335.5 139.4L315 123.8L294.4 109.3L273.8 96.2L253.1 84.3L232.5 73.9L211.8 64.9M246.1 206.6L266.6 199.6L287 192.3L307.4 184.5L327.9 176.4L348.3 167.8L368.8 158.9L389.2 149.6L409.7 139.8L430.3 129.7L450.8 119.2L471.4 108.3L492.1 97L512.8 85.4M480.9 274.2L461.1 252.2L441.1 231L421 210.5L400.8 190.9L380.5 172.2L360.1 154.5L339.7 137.8L319.2 122.4L298.6 108.1L278 95.1L257.3 83.4L236.7 73.2L216 64.4M241.9 202.1L262.4 195.3L282.8 188.1L303.3 180.5L323.7 172.5L344.2 164.1L364.6 155.4L385.1 146.2L405.6 136.7L426.1 126.7L446.7 116.4L467.3 105.7L488 94.6L508.7 83.1M485 271.3L465.2 249.6L445.2 228.5L425.1 208.2L405 188.7L384.7 170.2L364.3 152.7L343.9 136.2L323.3 120.9L302.8 106.8L282.2 94L261.5 82.5L240.9 72.5L220.2 63.9M237.7 197.6L258.2 190.9L278.6 183.9L299.1 176.5L319.5 168.7L340 160.5L360.5 151.9L381 142.9L401.5 133.6L422 123.8L442.6 113.7L463.2 103.1L483.8 92.2L504.5 80.9M489.2 268.5L469.3 246.9L449.4 226L429.3 205.8L409.1 186.5L388.8 168.2L368.5 150.8L348 134.6L327.5 119.5L306.9 105.5L286.3 92.9L265.7 81.6L245.1 71.7L224.4 63.3M233.5 193.1L254 186.7L274.5 179.8L294.9 172.5L315.4 164.9L335.8 156.9L356.3 148.5L376.8 139.7L397.3 130.5L417.9 120.9L438.4 110.9L459 100.6L479.7 89.8L500.4 78.7M493.3 265.6L473.5 244.2L453.5 223.4L433.4 203.5L413.3 184.4L393 166.2L372.6 149L352.2 132.9L331.7 118L311.1 104.2L290.5 91.8L269.9 80.7L249.3 71L228.6 62.7M229.3 188.7L249.8 182.4L270.3 175.7L290.7 168.6L311.2 161.2L331.7 153.3L352.2 145.1L372.7 136.5L393.2 127.5L413.7 118.1L434.3 108.3L454.9 98.1L475.6 87.5L496.2 76.5M497.4 262.7L477.6 241.4L457.6 220.9L437.6 201.1L417.4 182.2L397.1 164.2L376.8 147.2L356.4 131.3L335.9 116.5L315.3 102.9L294.7 90.7L274.1 79.7L253.4 70.2L232.8 62.1M225.1 184.4L245.6 178.2L266.1 171.7L286.6 164.8L307 157.5L327.5 149.8L348 141.8L368.5 133.3L389 124.5L409.6 115.3L430.2 105.7L450.8 95.7L471.4 85.3L492.1 74.5M501.6 259.8L481.7 238.7L461.8 218.3L441.7 198.7L421.6 179.9L401.3 162.1L380.9 145.3L360.5 129.6L340 115L319.5 101.6L298.9 89.5L278.3 78.7L257.6 69.4L237 61.5M220.9 180.1L241.4 174.1L261.9 167.7L282.4 161L302.9 153.8L323.4 146.3L343.9 138.5L364.4 130.2L384.9 121.6L405.4 112.5L426 103.1L446.6 93.3L467.3 83L487.9 72.4M505.7 256.8L485.9 235.9L465.9 215.7L445.9 196.3L425.7 177.7L405.5 160.1L385.1 143.4L364.7 127.9L344.2 113.5L323.7 100.3L303.1 88.3L282.5 77.8L261.8 68.6L241.2 60.8M216.7 175.8L237.2 170L257.7 163.8L278.2 157.2L298.7 150.2L319.2 142.9L339.7 135.2L360.2 127.1L380.7 118.7L401.3 109.8L421.9 100.6L442.5 90.9L463.1 80.9L483.8 70.4M509.9 253.9L490 233.1L470.1 213.1L450 193.8L429.9 175.4L409.6 158L389.3 141.5L368.9 126.1L348.4 111.9L327.8 98.9L307.2 87.2L286.6 76.8L266 67.7L245.4 60.2M212.5 171.6L233 165.9L253.5 159.9L274 153.5L294.5 146.7L315 139.6L335.5 132L356 124.1L376.6 115.8L397.1 107.2L417.7 98.1L438.3 88.6L459 78.7L479.6 68.5M514 250.9L494.2 230.3L474.2 210.5L454.2 191.4L434 173.2L413.8 155.9L393.4 139.6L373 124.4L352.5 110.4L332 97.5L311.4 86L290.8 75.7L270.2 66.9L249.6 59.5M208.2 167.4L228.8 161.9L249.3 156L269.8 149.8L290.3 143.2L310.8 136.2L331.4 128.9L351.9 121.2L372.4 113L393 104.5L413.6 95.6L434.2 86.4L454.8 76.7L475.5 66.6M518.2 247.9L498.3 227.5L478.4 207.8L458.3 188.9L438.2 170.9L417.9 153.8L397.6 137.7L377.2 122.7L356.7 108.8L336.2 96.1L315.6 84.7L295 74.7L274.4 66.1L253.8 58.9M204 163.3L224.6 157.9L245.1 152.2L265.6 146.2L286.1 139.7L306.7 133L327.2 125.8L347.7 118.2L368.3 110.3L388.8 102L409.4 93.3L430 84.1L450.6 74.6L471.3 64.7M522.3 244.9L502.5 224.7L482.6 205.2L462.5 186.5L442.4 168.6L422.1 151.7L401.8 135.7L381.4 120.9L360.9 107.2L340.4 94.7L319.8 83.5L299.2 73.7L278.6 65.2L258 58.2M199.8 159.2L220.4 154L240.9 148.5L261.4 142.6L282 136.3L302.5 129.7L323 122.7L343.6 115.4L364.1 107.6L384.7 99.5L405.2 90.9L425.8 82L446.5 72.7L467.2 62.9M526.5 241.8L506.7 221.8L486.7 202.5L466.7 184L446.5 166.3L426.3 149.5L405.9 133.8L385.5 119.1L365.1 105.6L344.5 93.3L324 82.3L303.4 72.6L282.8 64.3L262.2 57.4M195.6 155.2L216.1 150.2L236.7 144.8L257.2 139.1L277.8 133L298.3 126.6L318.8 119.7L339.4 112.5L359.9 105L380.5 97L401.1 88.6L421.7 79.9L442.3 70.7L463 61.1M530.6 238.8L510.8 219L490.9 199.8L470.8 181.4L450.7 163.9L430.4 147.4L410.1 131.8L389.7 117.3L369.2 104L348.7 91.9L328.2 81L307.6 71.5L287 63.4L266.4 56.7M191.3 151.2L211.9 146.4L232.5 141.2L253 135.6L273.6 129.7L294.1 123.4L314.7 116.8L335.2 109.8L355.8 102.4L376.3 94.6L396.9 86.4L417.5 77.8L438.2 68.8L458.8 59.4M534.8 235.7L515 216.1L495 197.1L475 178.9L454.8 161.6L434.6 145.2L414.3 129.8L393.9 115.5L373.4 102.4L352.9 90.4L332.3 79.7L311.7 70.4L291.2 62.5L270.6 56M187.1 147.3L207.7 142.6L228.3 137.6L248.8 132.2L269.4 126.4L289.9 120.4L310.5 113.9L331 107.1L351.6 99.8L372.2 92.2L392.7 84.2L413.4 75.8L434 67L454.7 57.8M539 232.7L519.1 213.2L499.2 194.4L479.2 176.4L459 159.2L438.8 143L418.5 127.8L398.1 113.7L377.6 100.7L357.1 88.9L336.5 78.4L315.9 69.3L295.3 61.5L274.8 55.2M182.9 143.4L203.5 138.9L224.1 134L244.6 128.8L265.2 123.2L285.8 117.3L306.3 111L326.9 104.4L347.4 97.4L368 89.9L388.6 82.1L409.2 73.9L429.8 65.2L450.5 56.2M543.1 229.6L523.3 210.3L503.4 191.6L483.3 173.8L463.2 156.8L442.9 140.8L422.6 125.8L402.2 111.8L381.8 99L361.3 87.4L340.7 77.1L320.1 68.2L299.5 60.6L278.9 54.4M178.6 139.6L199.2 135.2L219.8 130.5L240.4 125.5L261 120.1L281.6 114.4L302.1 108.3L322.7 101.8L343.3 94.9L363.8 87.7L384.4 80L405 72L425.6 63.5L446.3 54.6M547.3 226.5L527.5 207.3L507.5 188.9L487.5 171.2L467.4 154.4L447.1 138.6L426.8 123.7L406.4 110L385.9 97.4L365.4 85.9L344.9 75.8L324.3 67L303.7 59.6L283.1 53.6M174.4 135.8L195 131.6L215.6 127.1L236.2 122.2L256.8 117L277.4 111.4L297.9 105.5L318.5 99.2L339.1 92.5L359.7 85.5L380.2 78L400.8 70.1L421.5 61.8L442.1 53.1M551.5 223.3L531.6 204.4L511.7 186.1L491.7 168.6L471.5 152L451.3 136.3L431 121.7L410.6 108.1L390.1 95.7L369.6 84.4L349.1 74.5L328.5 65.8L307.9 58.6L287.3 52.8M170.1 132.1L190.8 128.1L211.4 123.7L232 119L252.6 114L273.2 108.6L293.8 102.8L314.3 96.7L334.9 90.2L355.5 83.3L376.1 76L396.7 68.3L417.3 60.2L438 51.7M555.6 220.2L535.8 201.4L515.9 183.3L495.8 166L475.7 149.6L455.5 134.1L435.2 119.6L414.8 106.2L394.3 93.9L373.8 82.9L353.2 73.1L332.7 64.7L312.1 57.6L291.5 52M165.9 128.5L186.5 124.6L207.2 120.4L227.8 115.8L248.4 111L269 105.8L289.6 100.2L310.1 94.3L330.7 87.9L351.3 81.2L371.9 74.1L392.5 66.6L413.1 58.6L433.8 50.3M559.8 217L540 198.4L520.1 180.5L500 163.4L479.9 147.1L459.7 131.8L439.3 117.5L418.9 104.3L398.5 92.2L378 81.3L357.4 71.7L336.9 63.5L316.3 56.6L295.7 51.1M161.6 124.9L182.3 121.1L203 117.1L223.6 112.7L244.2 108L264.8 103L285.4 97.6L306 91.8L326.5 85.7L347.1 79.2L367.7 72.2L388.3 64.9L409 57.1L429.6 48.9M564 213.8L544.2 195.4L524.2 177.7L504.2 160.8L484.1 144.7L463.8 129.5L443.5 115.4L423.1 102.4L402.7 90.5L382.2 79.8L361.6 70.3L341 62.2L320.5 55.5L299.9 50.3M157.4 121.3L178.1 117.7L198.7 113.9L219.4 109.7L240 105.2L260.6 100.3L281.2 95.1L301.8 89.5L322.4 83.5L343 77.2L363.5 70.4L384.2 63.3L404.8 55.7L425.4 47.7M568.2 210.7L548.4 192.4L528.4 174.9L508.4 158.1L488.2 142.2L468 127.2L447.7 113.3L427.3 100.4L406.9 88.7L386.3 78.2L365.8 68.9L345.2 61L324.6 54.5L304.1 49.4M153.1 117.8L173.8 114.4L194.5 110.7L215.2 106.7L235.8 102.3L256.4 97.7L277 92.6L297.6 87.2L318.2 81.4L338.8 75.2L359.4 68.7L380 61.7L400.6 54.3L421.2 46.4M572.4 207.5L552.5 189.4L532.6 172L512.6 155.4L492.4 139.7L472.2 124.9L451.9 111.2L431.5 98.5L411 86.9L390.5 76.6L370 67.5L349.4 59.8L328.8 53.4L308.2 48.5M148.9 114.3L169.6 111.1L190.3 107.6L210.9 103.7L231.6 99.6L252.2 95.1L272.8 90.2L293.4 85L314 79.4L334.6 73.4L355.2 67L375.8 60.1L396.4 52.9L417.1 45.2M576.6 204.2L556.7 186.3L536.8 169.1L516.8 152.7L496.6 137.2L476.4 122.6L456.1 109L435.7 96.5L415.2 85.1L394.7 74.9L374.2 66.1L353.6 58.5L333 52.3L312.4 47.6M144.6 111L165.4 107.9L186.1 104.5L206.7 100.9L227.4 96.9L248 92.5L268.6 87.8L289.2 82.8L309.8 77.4L330.4 71.5L351 65.3L371.6 58.7L392.2 51.6L412.9 44.1M580.8 201L560.9 183.3L541 166.3L520.9 150L500.8 134.7L480.6 120.2L460.3 106.8L439.9 94.5L419.4 83.3L398.9 73.3L378.4 64.6L357.8 57.2L337.2 51.2L316.6 46.6M140.4 107.6L161.1 104.7L181.8 101.5L202.5 98L223.2 94.2L243.8 90.1L264.4 85.5L285 80.7L305.6 75.4L326.2 69.8L346.8 63.7L367.4 57.3L388.1 50.4L408.7 43.1M585 197.7L565.1 180.2L545.2 163.4L525.1 147.3L505 132.1L484.8 117.9L464.4 104.6L444.1 92.5L423.6 81.5L403.1 71.7L382.5 63.1L362 55.9L341.4 50.1L320.8 45.7M136.1 104.3L156.9 101.6L177.6 98.6L198.3 95.3L219 91.6L239.6 87.6L260.2 83.3L280.8 78.6L301.4 73.5L322 68.1L342.6 62.2L363.3 55.9L383.9 49.2L404.5 42M589.2 194.5L569.3 177.1L549.4 160.4L529.3 144.6L509.2 129.6L489 115.5L468.6 102.4L448.2 90.5L427.8 79.6L407.3 70L386.7 61.6L366.2 54.6L345.6 48.9L325 44.7M131.9 101.1L152.6 98.5L173.4 95.7L194.1 92.5L214.7 89.1L235.4 85.3L256 81.1L276.7 76.6L297.3 71.7L317.9 66.4L338.5 60.7L359.1 54.6L379.7 48.1L400.3 41.1M593.4 191.2L573.5 174L553.6 157.5L533.5 141.8L513.4 127L493.1 113.1L472.8 100.2L452.4 88.4L432 77.7L411.5 68.3L390.9 60.1L370.3 53.2L349.8 47.8L329.2 43.7M127.6 98L148.4 95.5L169.1 92.9L189.9 89.9L210.5 86.6L231.2 83L251.8 79L272.5 74.6L293.1 69.9L313.7 64.8L334.3 59.3L354.9 53.4L375.5 47L396.1 40.2M597.6 187.9L577.7 170.9L557.8 154.6L537.7 139.1L517.6 124.4L497.3 110.7L477 98L456.6 86.4L436.2 75.9L415.7 66.6L395.1 58.6L374.5 51.9L353.9 46.6L333.4 42.7M123.4 94.8L144.2 92.6L164.9 90.1L185.6 87.3L206.3 84.2L227 80.7L247.6 76.9L268.3 72.8L288.9 68.2L309.5 63.3L330.1 57.9L350.7 52.2L371.3 46L391.9 39.3M601.8 184.6L581.9 167.7L562 151.6L541.9 136.3L521.8 121.8L501.5 108.3L481.2 95.7L460.8 84.3L440.4 74L419.9 64.9L399.3 57L378.7 50.5L358.1 45.4L337.5 41.7M119.1 91.8L139.9 89.7L160.7 87.4L181.4 84.7L202.1 81.8L222.8 78.5L243.4 74.9L264.1 70.9L284.7 66.6L305.3 61.8L325.9 56.6L346.5 51.1L367.1 45L387.8 38.6M606 181.3L586.1 164.6L566.2 148.6L546.1 133.5L526 119.2L505.7 105.8L485.4 93.5L465 82.2L444.6 72.1L424 63.1L403.5 55.5L382.9 49.1L362.3 44.2L341.7 40.6M114.9 88.8L135.7 86.9L156.5 84.7L177.2 82.3L197.9 79.5L218.6 76.4L239.3 73L259.9 69.1L280.5 65L301.1 60.4L321.7 55.4L342.3 50L363 44.1L383.6 37.8M610.2 177.9L590.4 161.4L570.4 145.7L550.3 130.7L530.2 116.5L509.9 103.4L489.6 91.2L469.2 80.1L448.8 70.1L428.2 61.4L407.7 53.9L387.1 47.7L366.5 42.9L345.9 39.6M110.6 85.9L131.4 84.2L152.2 82.1L173 79.9L193.7 77.3L214.4 74.3L235.1 71.1L255.7 67.4L276.3 63.4L297 59L317.6 54.2L338.2 49L358.8 43.3L379.4 37.2M614.4 174.6L594.6 158.2L574.6 142.6L554.6 127.8L534.4 113.9L514.1 100.9L493.8 88.9L473.4 78L453 68.2L432.4 59.6L411.9 52.3L391.3 46.3L370.7 41.7L350.1 38.5M106.4 83L127.2 81.5L148 79.6L168.8 77.5L189.5 75.1L210.2 72.3L230.9 69.2L251.5 65.8L272.2 61.9L292.8 57.7L313.4 53.1L334 48L354.6 42.5L375.2 36.6M618.7 171.2L598.8 155.1L578.8 139.6L558.8 125L538.6 111.2L518.4 98.4L498 86.6L477.6 75.8L457.2 66.2L436.6 57.8L416.1 50.7L395.5 44.8L374.9 40.4L354.3 37.4M102.1 80.2L123 78.8L143.8 77.1L164.5 75.2L185.3 72.9L206 70.4L226.7 67.5L247.3 64.2L268 60.5L288.6 56.5L309.2 52L329.8 47.1L350.4 41.8L371 36M622.9 167.8L603 151.8L583 136.6L563 122.1L542.8 108.5L522.6 95.9L502.2 84.2L481.8 73.7L461.4 64.2L440.8 56L420.3 49L399.7 43.4L379.1 39.1L358.5 36.2M97.9 77.5L118.7 76.2L139.5 74.7L160.3 73L181.1 70.9L201.8 68.5L222.5 65.8L243.1 62.7L263.8 59.2L284.4 55.3L305 51L325.6 46.3L346.2 41.1L366.8 35.5M627.1 164.4L607.2 148.6L587.3 133.5L567.2 119.3L547 105.8L526.8 93.4L506.4 81.9L486 71.5L465.6 62.2L445 54.2L424.5 47.4L403.9 41.9L383.2 37.8L362.6 35.1M93.6 74.8L114.5 73.7L135.3 72.4L156.1 70.8L176.9 68.9L197.6 66.7L218.3 64.1L239 61.2L259.6 57.9L280.2 54.2L300.8 50.1L321.4 45.5L342 40.6L362.6 35.1" fill="none" stroke="#000" stroke-width="0.92"/>
<text x="92.6" y="321.1" font-size="21" text-anchor="end" fill="#000" color="#000" >0.6</text>
<text x="90.8" y="283.4" font-size="21" text-anchor="end" fill="#000" color="#000" >0.7</text>
<text x="88.9" y="245.6" font-size="21" text-anchor="end" fill="#000" color="#000" >0.8</text>
<text x="87.1" y="207.9" font-size="21" text-anchor="end" fill="#000" color="#000" >0.9</text>
<text x="85.3" y="170.2" font-size="21" text-anchor="end" fill="#000" color="#000" >1</text>
<text x="83.5" y="132.5" font-size="21" text-anchor="end" fill="#000" color="#000" >1.1</text>
<text x="81.6" y="94.7" font-size="21" text-anchor="end" fill="#000" color="#000" >1.2</text>
<text x="79.8" y="57" font-size="21" text-anchor="end" fill="#000" color="#000" >1.3</text>
<text transform="translate(17.2,372.6) rotate(-90)" font-size="20.5" textLength="263" lengthAdjust="spacingAndGlyphs">TP content (g GAE/100g DW)</text>
<text x="374.6" y="550.3" font-size="21" text-anchor="start" fill="#000" color="#000" >20</text>
<text x="437.9" y="520" font-size="21" text-anchor="start" fill="#000" color="#000" >25</text>
<text x="501.1" y="489.8" font-size="21" text-anchor="start" fill="#000" color="#000" >30</text>
<text x="564.4" y="459.5" font-size="21" text-anchor="start" fill="#000" color="#000" >35</text>
<text x="627.7" y="429.3" font-size="21" text-anchor="start" fill="#000" color="#000" >40</text>
<text x="77.2" y="440.1" font-size="21" text-anchor="start" fill="#000" color="#000" >1:30</text>
<text x="138" y="470.5" font-size="21" text-anchor="start" fill="#000" color="#000" >1:25</text>
<text x="192.6" y="495.5" font-size="21" text-anchor="start" fill="#000" color="#000" >1:20</text>
<text x="252.3" y="524.5" font-size="21" text-anchor="start" fill="#000" color="#000" >1:15</text>
<text x="295.9" y="549.5" font-size="21" text-anchor="start" fill="#000" color="#000" >1:10</text>
<text x="27.1" y="525.1" font-size="21" text-anchor="start" fill="#000" color="#000" textLength="218" lengthAdjust="spacingAndGlyphs">Solid/liquid ratio (g/mL)</text>
<text x="539.1" y="522.2" font-size="21" text-anchor="start" fill="#000" color="#000" textLength="96" lengthAdjust="spacingAndGlyphs">Time (min)</text>
<text x="638" y="36.6" font-size="30" text-anchor="start" fill="#000" color="#000" >A</text>
<text x="653.2" y="211.6" font-size="20.5" text-anchor="start" fill="#000" color="#000" textLength="270.7" lengthAdjust="spacingAndGlyphs">TP content (g GAE/100g DW)</text>
<defs><linearGradient id="lg0" x1="0" y1="0" x2="0" y2="1"><stop offset="0" stop-color="#ff0000"/><stop offset="0.5" stop-color="#00ff00"/><stop offset="1" stop-color="#0000ff"/></linearGradient></defs>
<rect x="658.6" y="219.6" width="15.8" height="71.5" fill="url(#lg0)" stroke="#202020" stroke-width="1"/>
<text x="681.7" y="235.8" font-size="20" text-anchor="start" fill="#ff0000" color="#ff0000" >1.28</text>
<text x="681.5" y="285.4" font-size="20" text-anchor="start" fill="#0000ff" color="#0000ff" >0.68425</text>
<path d="M105.8 885L362.3 797.9L619 885.3M104 847.3L362.4 764L620.9 847.7M102.1 809.5L362.4 730.1L622.8 810.1M100.3 771.8L362.5 696.1L624.7 772.4M98.5 734.1L362.5 662.2L626.6 734.8M96.7 696.4L362.6 628.3L628.4 697.2M94.8 658.6L362.6 594.3L630.3 659.5M93 620.9L362.7 560.4L632.2 621.9M169.9 863.2L160.4 605.8M554.9 863.5L564.8 606.5M234.1 841.5L227.8 590.7M490.7 841.6L497.5 591.2M298.2 819.7L295.3 575.5M426.5 819.8L430.1 575.8M109.8 968L93 620.9M362.2 872.6L362.7 560.4M614.9 968.1L632.2 621.9" fill="none" stroke="#303030" stroke-width="1"/>
<polygon points="361.8,1089.1 614.9,968.1 362.2,872.6 109.8,968" fill="#ffff00"/>
<polyline points="445.3,904 429.2,903.2 412.4,901.7 397.2,899.6 383.5,896.7 371.5,893.3 361.2,889.1 352.6,884.3 345.8,878.8" fill="none" stroke="#c8ff00" stroke-width="1"/>
<polyline points="579.2,954.6 527.5,963.2 469.8,974.3 415.1,986.1 390.3,992 368.9,997.5 350.8,1002.5 333.4,1007.8 319.1,1012.5 305.4,1017.5 292.3,1022.9 281.9,1027.5 270.2,1033.5 259.1,1039.7" fill="none" stroke="#30ff00" stroke-width="1"/>
<polyline points="450.1,1046.9 432.8,1054.5 415.7,1062.4 380.4,1080.2" fill="none" stroke="#00ff8c" stroke-width="1"/>
<polygon points="361.8,1089.1 614.9,968.1 362.2,872.6 109.8,968" fill="none" stroke="#303030" stroke-width="1"/>
<g fill="#000"><circle cx="105.8" cy="885" r="1.8"/><circle cx="104" cy="847.3" r="1.8"/><circle cx="102.1" cy="809.5" r="1.8"/><circle cx="100.3" cy="771.8" r="1.8"/><circle cx="98.5" cy="734.1" r="1.8"/><circle cx="96.7" cy="696.4" r="1.8"/><circle cx="94.8" cy="658.6" r="1.8"/><circle cx="93" cy="620.9" r="1.8"/><circle cx="361.8" cy="1089.1" r="1.8"/><circle cx="361.8" cy="1089.1" r="1.8"/><circle cx="298.8" cy="1058.8" r="1.8"/><circle cx="425.1" cy="1058.8" r="1.8"/><circle cx="235.8" cy="1028.6" r="1.8"/><circle cx="488.4" cy="1028.6" r="1.8"/><circle cx="172.8" cy="998.3" r="1.8"/><circle cx="551.6" cy="998.4" r="1.8"/><circle cx="109.8" cy="968" r="1.8"/><circle cx="614.9" cy="968.1" r="1.8"/></g>
<path d="M359.7 829.2L359.3 828.9L384.4 818.1L421.3 803.4L455.8 791.1L490.4 780.1L443.6 799.7L392.8 819.4L361.9 830.8Z" fill="#38ff00" stroke="#38ff00" stroke-width="0.6" fill-rule="evenodd"/>
<path d="M357.5 827.6L347.6 820.2L391.9 801.9L428 788.7L464 777.1L502.3 766.2L542.9 756L490.4 780.1L458.2 790.3L425.8 801.7L392.9 814.6L359.3 828.9Z" fill="#49ff00" stroke="#49ff00" stroke-width="0.6" fill-rule="evenodd"/>
<path d="M346.5 819.5L335.6 811.6L367 798.5L400.1 786.2L437.9 773.8L480.9 761.6L527.1 750.1L575.3 739.7L542.9 756L491.9 769.1L444.5 783.2L421.1 791.1L396.3 800.2L372.6 809.6L347.6 820.2Z" fill="#5bff00" stroke="#5bff00" stroke-width="0.6" fill-rule="evenodd"/>
<path d="M335.5 811.5L323.4 802.8L361.2 787.5L399.7 774.1L443.8 761L491.4 748.8L545.6 736.8L600.2 726.4L575.3 739.7L538.5 747.6L505 755.4L473.1 763.7L442.8 772.4L414 781.5L388.8 790.2L364.8 799.4Z" fill="#6cff00" stroke="#6cff00" stroke-width="0.6" fill-rule="evenodd"/>
<path d="M322.3 802L310.8 793.9L331.3 785.4L352.9 777.2L375.6 769.5L399.4 762.2L447.8 749.1L502.9 736.5L562.6 724.7L620.9 714.8L600.2 726.4L554.6 735L508.1 744.9L464.5 755.4L426.2 765.9L381.2 780.2L352.5 790.8L323.4 802.8Z" fill="#7dff00" stroke="#7dff00" stroke-width="0.6" fill-rule="evenodd"/>
<path d="M309 792.7L297.7 784.9L322.3 774.8L348.7 765.5L377 756.7L407 748.5L441.3 740.2L480.4 731.6L521.5 723.5L564.9 715.7L621.3 706.7L627.8 710.8L620.9 714.8L575.2 722.4L526.2 731.6L480.3 741.4L437.3 751.8L406.8 760L380.3 768L344.1 780.5L310.8 793.9Z" fill="#8eff00" stroke="#8eff00" stroke-width="0.6" fill-rule="evenodd"/>
<path d="M295.8 783.6L283.9 775.6L285.8 774.8L310.5 764.9L337.3 755.9L366.1 747.5L399.4 739.1L443.1 729.4L492.4 719.7L548 710L600.8 701.7L611.2 700.3L621.3 706.7L574.5 714L524.5 722.9L477.5 732.2L433.2 742L399.3 750.5L367.4 759.6L330.9 771.6L297.7 784.9Z" fill="#9fff00" stroke="#9fff00" stroke-width="0.6" fill-rule="evenodd"/>
<path d="M282.5 774.7L269.1 766L291.4 757L315.6 748.8L341.9 741.3L375.2 733.2L419.2 723.9L474.8 713.6L534 703.7L593.9 694.7L600.9 693.8L611.2 700.3L560.9 707.9L507.5 717L457.3 726.5L412.7 736L378.6 744.2L346.6 753L312.7 764.1L283.9 775.6Z" fill="#b0ff00" stroke="#b0ff00" stroke-width="0.6" fill-rule="evenodd"/>
<path d="M266.9 764.6L253.1 756L272.9 747.9L294.8 740.5L321.2 733.3L352.4 726.1L397.1 717.4L456.6 707.1L526.2 696.3L590.4 687.3L600.9 693.8L547 701.7L490.1 710.9L439.3 720L394.1 729L359.5 736.8L332.1 744L297.8 754.7L283 760.2L269.1 766Z" fill="#c1ff00" stroke="#c1ff00" stroke-width="0.6" fill-rule="evenodd"/>
<path d="M251.4 755L234.9 745.2L252.2 737.9L271.8 731.4L293.4 725.6L319.5 719.9L361.8 712.3L425 702.3L508.1 690.3L579.7 680.8L590.4 687.3L532.7 695.4L472 704.7L414.6 714.3L366.1 723.3L333.9 730.2L306.5 737.1L277.1 746.3L253.1 756Z" fill="#d2ff00" stroke="#d2ff00" stroke-width="0.6" fill-rule="evenodd"/>
<path d="M233.6 744.4L212.9 732.9L225.4 727.1L239.9 722L258.8 716.9L279.7 712.6L311.2 707.5L356.8 701.2L568.7 674.2L579.7 680.8L514.7 689.4L440.6 700L379.4 709.4L336 716.8L306.2 722.7L281.1 728.7L256.4 736.3L234.9 745.2ZM99.8 687.9L136.2 678.7L120.2 683.8Z" fill="#e3ff00" stroke="#e3ff00" stroke-width="0.6" fill-rule="evenodd"/>
<path d="M211.4 732.2L179.4 716.5L185.3 711.3L193.3 707L201.8 704.3L212.2 702.3L236.5 699.5L326.3 692.2L384.4 686.7L557.3 667.6L568.7 674.2L372.5 699.1L296.6 709.8L269 714.7L249 719.3L229.4 725.5L212.9 732.9ZM125.2 695.8L96.3 688.7L113.4 685.5L124.5 682.7L165 669.9L189.3 661.6L181.8 673.5L176.8 679.9L171.5 684.9L165.9 688.5L158.5 691.4L149 693.5L137.6 695Z" fill="#f5ff00" stroke="#f5ff00" stroke-width="0.6" fill-rule="evenodd"/>
<path d="M178.1 715.9L151.5 704.9L124.8 695.8L137.6 695L149 693.5L156.4 692L164.3 689.3L170.2 685.9L176.8 679.9L181.8 673.5L189.3 661.6L219.6 650.4L220.6 656.5L223.3 662.3L228.4 667.5L234.6 671.1L243 674.2L251 676L263.9 677.9L279.1 679L296.4 679.5L320.4 679.2L346.5 678.3L379.8 676.3L444.1 671.1L545.5 660.9L557.3 667.6L384.4 686.7L326.3 692.2L239.7 699.2L217.9 701.5L204.3 703.8L195.3 706.3L186.7 710.4L179.4 716.5Z" fill="#fff800" stroke="#fff800" stroke-width="0.6" fill-rule="evenodd"/>
<path d="M251 676L238.5 672.8L229.7 668.5L226.1 665.5L223.3 662.3L221.5 658.9L220 654.1L219.6 650.4L244.5 640.6L247.9 645.9L252 649.9L257.5 653.6L264.5 656.9L273.2 659.7L283.7 662L296 663.9L310.1 665.2L325.9 665.9L347.8 666.2L397.1 664.8L456.8 660.8L533.1 654.1L545.5 660.9L432.2 672.1L391.2 675.5L351.9 678L320.4 679.2L291.9 679.4L267.5 678.2Z" fill="#ffe700" stroke="#ffe700" stroke-width="0.6" fill-rule="evenodd"/>
<path d="M275.7 660.3L264.5 656.9L256 652.7L252 649.9L248.9 647L246.4 643.8L244.5 640.6L266.8 631.5L270.5 635.4L275.4 639.1L281.6 642.4L289.2 645.4L298.3 648.1L308.8 650.3L331 653.1L345.7 654.1L366 654.7L407.2 654.2L457.8 651.7L519.9 647.2L533.1 654.1L434.7 662.5L397.1 664.8L366.7 665.9L338.8 666.2L313.9 665.4L292.8 663.5Z" fill="#ffd600" stroke="#ffd600" stroke-width="0.6" fill-rule="evenodd"/>
<path d="M293.5 646.8L285.2 644L276.8 640L271.6 636.4L266.8 631.5L287.5 622.9L291.9 626.5L296.1 629.1L308.5 634.4L324.9 638.6L345.5 641.7L374.1 643.7L411.8 644.2L454.1 643L505.8 640L519.9 647.2L437.1 652.9L402.4 654.4L374.7 654.8L349.6 654.3L327.6 652.8L308.8 650.3Z" fill="#ffc500" stroke="#ffc500" stroke-width="0.6" fill-rule="evenodd"/>
<path d="M322.3 638.1L310.6 635L300.9 631.5L293.2 627.4L287.5 622.9L307.2 614.6L312.2 618L316.8 620.4L327.9 624.6L341.8 628.2L358.6 630.9L381.7 633.1L412.4 634.3L446.9 634.1L490.2 632.6L505.8 640L444.4 643.4L394.4 644.2L370.2 643.6L352.2 642.4L336.2 640.5Z" fill="#ffb400" stroke="#ffb400" stroke-width="0.6" fill-rule="evenodd"/>
<path d="M344.4 628.7L332.2 625.9L322 622.6L313.7 618.8L307.2 614.6L326.5 606.5L335 611.2L344.1 614.6L355.1 617.6L368 620.1L389.1 622.7L413.7 624.3L441.3 624.9L472.4 624.6L490.2 632.6L442.4 634.2L404.3 634.1L371.3 632.3L358.6 630.9Z" fill="#ffa300" stroke="#ffa300" stroke-width="0.6" fill-rule="evenodd"/>
<path d="M360 618.7L350.5 616.5L340.2 613.3L333.4 610.4L326.5 606.5L345.5 598.5L351.1 601.5L357.9 604.3L375 609L390.9 611.7L409.4 613.8L430.1 615.1L450.4 615.7L472.4 624.6L437.2 624.9L406.4 624L379.6 621.7Z" fill="#ff9200" stroke="#ff9200" stroke-width="0.6" fill-rule="evenodd"/>
<path d="M382.7 610.5L372.6 608.5L361.7 605.6L352.7 602.2L345.5 598.5L362.7 591.3L367.6 592.1L377.2 596.1L387.5 599L399.6 601.5L415.5 603.7L431.8 609L450.4 615.7L412.7 614L396.8 612.5Z" fill="#ff8000" stroke="#ff8000" stroke-width="0.6" fill-rule="evenodd"/>
<path d="M405 602.3L392.1 600.1L383.2 597.9L375.4 595.4L367.6 592.1L385 595.7L402.8 600.1L415.5 603.7Z" fill="#ff6f00" stroke="#ff6f00" stroke-width="0.6" fill-rule="evenodd"/>
<path d="M361.9 830.8L341.6 815.9L321.3 801.3L300.9 787.1L280.4 773.4L259.9 760.2L239.4 747.8L218.9 736.2L198.4 725.5L177.9 715.8L157.4 707.2L137 699.7L116.6 693.5L96.3 688.7M361.9 830.8L382.3 823.3L402.7 815.7L423.1 807.8L443.5 799.8L463.8 791.4L484.2 782.8L504.6 773.8L525.1 764.5L545.5 754.7L566 744.5L586.6 733.8L607.1 722.6L627.8 710.8M366.1 829.3L345.8 814.4L325.4 799.9L305 785.7L284.6 772.1L264.1 759L243.6 746.6L223.1 735.1L202.6 724.4L182.1 714.7L161.6 706.2L141.1 698.7L120.8 692.6L100.4 687.8M357.8 827.8L378.2 820.3L398.6 812.7L419 804.9L439.4 796.9L459.7 788.6L480.1 780L500.6 771L521 761.7L541.5 751.9L561.9 741.8L582.5 731.1L603.1 719.9L623.7 708.2M370.2 827.8L349.9 813L329.6 798.5L309.2 784.4L288.7 770.8L268.3 757.7L247.8 745.4L227.3 733.9L206.8 723.3L186.2 713.7L165.8 705.1L145.3 697.7L124.9 691.6L104.6 686.8M353.7 824.7L374.1 817.3L394.5 809.8L414.9 802L435.2 794L455.6 785.7L476 777.1L496.5 768.2L516.9 758.9L537.4 749.2L557.9 739L578.4 728.4L599 717.3L619.6 705.6M374.4 826.2L354.1 811.5L333.7 797.1L313.3 783L292.9 769.4L272.4 756.5L251.9 744.2L231.4 732.7L210.9 722.2L190.4 712.6L169.9 704.1L149.5 696.7L129.1 690.6L108.8 685.9M349.6 821.7L370 814.4L390.4 806.8L410.7 799.1L431.1 791.1L451.5 782.9L471.9 774.3L492.4 765.4L512.8 756.1L533.3 746.4L553.8 736.3L574.3 725.7L594.9 714.6L615.5 703M378.5 824.7L358.2 810L337.9 795.6L317.5 781.6L297 768.1L276.6 755.2L256.1 743L235.6 731.5L215.1 721L194.6 711.5L174.1 703L153.7 695.7L133.3 689.6L112.9 684.9M345.4 818.7L365.8 811.4L386.2 803.9L406.6 796.2L427 788.3L447.4 780L467.8 771.5L488.3 762.6L508.7 753.3L529.2 743.6L549.7 733.6L570.2 723L590.8 712L611.5 700.4M382.6 823.2L362.3 808.5L342 794.2L321.6 780.2L301.2 766.7L280.7 753.9L260.3 741.7L239.8 730.3L219.3 719.8L198.8 710.3L178.3 701.9L157.8 694.6L137.4 688.6L117.1 683.8M341.3 815.7L361.7 808.4L382.1 801L402.5 793.3L422.9 785.4L443.3 777.2L463.7 768.7L484.2 759.8L504.6 750.5L525.1 740.9L545.6 730.8L566.2 720.3L586.7 709.3L607.4 697.9M386.8 821.6L366.5 807L346.2 792.7L325.8 778.8L305.4 765.4L284.9 752.5L264.4 740.4L243.9 729.1L223.4 718.6L202.9 709.1L182.4 700.7L162 693.5L141.6 687.5L121.3 682.8M337.2 812.7L357.6 805.5L378 798.1L398.4 790.5L418.8 782.6L439.2 774.4L459.6 765.9L480.1 757L500.5 747.8L521 738.2L541.5 728.1L562.1 717.7L582.7 706.7L603.3 695.3M390.9 820.1L370.6 805.5L350.3 791.3L329.9 777.4L309.5 764L289.1 751.2L268.6 739.1L248.1 727.8L227.6 717.4L207.1 707.9L186.6 699.6L166.2 692.3L145.8 686.4L125.4 681.7M333 809.7L353.5 802.6L373.9 795.2L394.3 787.6L414.7 779.7L435.1 771.6L455.5 763.1L476 754.2L496.4 745L516.9 735.5L537.4 725.5L558 715L578.6 704.1L599.2 692.8M395.1 818.5L374.8 804L354.5 789.8L334.1 776L313.7 762.6L293.2 749.9L272.8 737.8L252.3 726.5L231.8 716.1L211.3 706.7L190.8 698.4L170.3 691.2L149.9 685.2L129.6 680.6M328.9 806.7L349.3 799.6L369.7 792.3L390.2 784.8L410.6 776.9L431 768.8L451.4 760.3L471.9 751.5L492.3 742.3L512.8 732.8L533.3 722.8L553.9 712.4L574.5 701.5L595.1 690.2M399.2 817L378.9 802.5L358.6 788.3L338.2 774.5L317.8 761.2L297.4 748.5L276.9 736.5L256.4 725.2L235.9 714.9L215.4 705.5L194.9 697.2L174.5 690L154.1 684L133.7 679.4M324.8 803.8L345.2 796.7L365.6 789.5L386 781.9L406.4 774.1L426.9 766L447.3 757.5L467.8 748.8L488.2 739.6L508.7 730.1L529.2 720.1L549.8 709.8L570.4 699L591 687.7M403.3 815.4L383.1 801L362.8 786.8L342.4 773.1L322 759.8L301.5 747.1L281.1 735.1L260.6 723.9L240.1 713.6L219.6 704.2L199.1 695.9L178.6 688.8L158.2 682.9L137.9 678.2M320.6 800.8L341.1 793.9L361.5 786.6L381.9 779.1L402.3 771.3L422.8 763.2L443.2 754.8L463.6 746L484.1 736.9L504.6 727.4L525.1 717.5L545.7 707.2L566.3 696.4L587 685.2M407.5 813.8L387.2 799.4L366.9 785.3L346.5 771.6L326.1 758.3L305.7 745.7L285.2 733.7L264.7 722.6L244.2 712.3L223.7 703L203.3 694.7L182.8 687.5L162.4 681.6L142.1 677M316.5 797.9L336.9 791L357.3 783.8L377.8 776.3L398.2 768.6L418.6 760.5L439.1 752.1L459.5 743.3L480 734.2L500.5 724.7L521 714.9L541.6 704.6L562.2 693.9L582.9 682.7M411.6 812.3L391.4 797.9L371 783.8L350.7 770.1L330.3 756.9L309.9 744.3L289.4 732.4L268.9 721.2L248.4 711L227.9 701.7L207.4 693.4L187 686.3L166.6 680.4L146.2 675.8M312.3 795L332.8 788.1L353.2 781L373.6 773.5L394.1 765.8L414.5 757.8L435 749.4L455.4 740.6L475.9 731.6L496.4 722.1L516.9 712.2L537.5 702L558.1 691.3L578.8 680.2M415.8 810.7L395.5 796.3L375.2 782.3L354.8 768.6L334.5 755.4L314 742.9L293.6 731L273.1 719.8L252.6 709.6L232.1 700.3L211.6 692.1L191.1 685L170.7 679.1L150.4 674.5M308.2 792.1L328.6 785.3L349.1 778.2L369.5 770.8L389.9 763.1L410.4 755L430.8 746.7L451.3 738L471.8 728.9L492.3 719.5L512.8 709.6L533.4 699.4L554 688.8L574.7 677.8M419.9 809.1L399.6 794.8L379.3 780.7L359 767.1L338.6 754L318.2 741.4L297.7 729.5L277.2 718.5L256.7 708.2L236.2 699L215.8 690.8L195.3 683.7L174.9 677.8L154.5 673.3M304.1 789.3L324.5 782.5L344.9 775.4L365.4 768L385.8 760.4L406.3 752.3L426.7 744L447.2 735.3L467.7 726.3L488.2 716.9L508.7 707.1L529.3 696.9L549.9 686.3L570.6 675.3M424 807.5L403.8 793.2L383.5 779.2L363.1 765.6L342.8 752.5L322.3 739.9L301.9 728.1L281.4 717L260.9 706.9L240.4 697.6L219.9 689.4L199.5 682.4L179 676.5L158.7 672M299.9 786.4L320.4 779.7L340.8 772.6L361.2 765.3L381.7 757.7L402.1 749.7L422.6 741.4L443.1 732.7L463.6 723.7L484.1 714.3L504.6 704.5L525.2 694.4L545.8 683.9L566.5 672.9M428.2 805.8L407.9 791.6L387.6 777.6L367.3 764L346.9 751L326.5 738.5L306 726.7L285.6 715.6L265.1 705.5L244.6 696.2L224.1 688.1L203.6 681L183.2 675.2L162.8 670.6M295.8 783.6L316.2 776.9L336.7 769.9L357.1 762.6L377.5 755L398 747L418.5 738.7L438.9 730.1L459.4 721.1L479.9 711.7L500.5 702L521.1 691.9L541.7 681.4L562.3 670.5M432.3 804.2L412.1 790L391.8 776.1L371.5 762.5L351.1 749.4L330.7 737L310.2 725.2L289.7 714.2L269.2 704L248.7 694.8L228.2 686.7L207.8 679.7L187.3 673.8L167 669.3M291.6 780.8L312.1 774.1L332.5 767.2L353 759.9L373.4 752.3L393.9 744.4L414.3 736.1L434.8 727.5L455.3 718.5L475.8 709.2L496.4 699.5L517 689.4L537.6 679L558.2 668.2M436.4 802.6L416.2 788.4L395.9 774.5L375.6 760.9L355.2 747.9L334.8 735.5L314.4 723.7L293.9 712.7L273.4 702.6L252.9 693.4L232.4 685.3L211.9 678.3L191.5 672.4L171.1 667.9M287.5 778L307.9 771.4L328.4 764.5L348.8 757.3L369.3 749.7L389.7 741.8L410.2 733.5L430.7 724.9L451.2 716L471.7 706.6L492.3 697L512.8 687L533.5 676.6L554.1 665.8M440.6 800.9L420.4 786.8L400.1 772.9L379.8 759.4L359.4 746.4L339 733.9L318.5 722.2L298 711.2L277.6 701.1L257.1 692L236.6 683.9L216.1 676.8L195.7 671L175.3 666.5M283.3 775.2L303.8 768.7L324.2 761.8L344.7 754.6L365.1 747.1L385.6 739.2L406.1 730.9L426.6 722.4L447.1 713.4L467.6 704.1L488.1 694.5L508.7 684.5L529.3 674.2L550 663.5M444.7 799.3L424.5 785.1L404.2 771.3L383.9 757.8L363.5 744.8L343.1 732.4L322.7 720.7L302.2 709.7L281.7 699.7L261.2 690.5L240.7 682.4L220.2 675.4L199.8 669.6L179.4 665.1M279.1 772.5L299.6 766L320.1 759.2L340.5 752L361 744.5L381.5 736.6L401.9 728.4L422.4 719.8L442.9 710.9L463.5 701.7L484 692.1L504.6 682.1L525.2 671.8L545.9 661.2M448.9 797.6L428.7 783.5L408.4 769.6L388.1 756.2L367.7 743.2L347.3 730.9L326.8 719.2L306.4 708.2L285.9 698.2L265.4 689L244.9 680.9L224.4 674L204 668.2L183.6 663.6M275 769.8L295.5 763.4L315.9 756.6L336.4 749.4L356.8 741.9L377.3 734.1L397.8 725.9L418.3 717.3L438.8 708.5L459.3 699.2L479.9 689.6L500.5 679.7L521.1 669.5L541.8 658.9M453 795.9L432.8 781.8L412.5 768L392.2 754.6L371.9 741.6L351.4 729.3L331 717.6L310.5 706.7L290 696.7L269.5 687.5L249 679.5L228.6 672.5L208.1 666.7L187.7 662.2M270.8 767.1L291.3 760.7L311.8 754L332.2 746.9L352.7 739.4L373.2 731.6L393.7 723.4L414.1 714.9L434.7 706L455.2 696.8L475.8 687.2L496.3 677.4L517 667.1L537.6 656.6M457.2 794.2L436.9 780.1L416.7 766.3L396.4 752.9L376 740L355.6 727.7L335.2 716L314.7 705.2L294.2 695.1L273.7 686L253.2 678L232.7 671L212.3 665.2L191.9 660.7M266.7 764.5L287.1 758.1L307.6 751.4L328.1 744.3L348.6 736.9L369 729.1L389.5 720.9L410 712.4L430.5 703.6L451.1 694.4L471.6 684.9L492.2 675L512.8 664.9L533.5 654.4M461.3 792.5L441.1 778.4L420.8 764.7L400.5 751.3L380.2 738.4L359.8 726.1L339.3 714.5L318.9 703.6L298.4 693.6L277.9 684.5L257.4 676.5L236.9 669.5L216.4 663.7L196 659.2M262.5 761.8L283 755.5L303.5 748.9L323.9 741.8L344.4 734.4L364.9 726.6L385.4 718.5L405.9 710L426.4 701.2L446.9 692L467.5 682.5L488.1 672.7L508.7 662.6L529.4 652.2M465.4 790.8L445.2 776.8L425 763L404.7 749.6L384.3 736.8L363.9 724.5L343.5 712.9L323 702L302.5 692L282 683L261.5 674.9L241 668L220.6 662.2L200.2 657.7M258.3 759.2L278.8 753L299.3 746.4L319.8 739.3L340.3 731.9L360.7 724.2L381.2 716.1L401.7 707.6L422.2 698.8L442.8 689.7L463.4 680.2L483.9 670.4L504.6 660.3L525.2 650M469.6 789.1L449.4 775L429.1 761.3L408.8 748L388.5 735.1L368.1 722.9L347.7 711.3L327.2 700.4L306.7 690.5L286.2 681.4L265.7 673.4L245.2 666.4L224.7 660.7L204.3 656.2M254.2 756.7L274.7 750.5L295.1 743.9L315.6 736.9L336.1 729.5L356.6 721.8L377.1 713.7L397.6 705.2L418.1 696.4L438.6 687.3L459.2 677.9L479.8 668.2L500.4 658.1L521.1 647.8M473.7 787.3L453.5 773.3L433.3 759.6L413 746.3L392.6 733.5L372.3 721.2L351.8 709.6L331.4 698.8L310.9 688.9L290.4 679.8L269.9 671.8L249.4 664.9L228.9 659.1L208.5 654.6M250 754.1L270.5 748L291 741.4L311.5 734.5L332 727.1L352.4 719.4L372.9 711.3L393.4 702.9L414 694.1L434.5 685L455.1 675.6L475.7 665.9L496.3 655.9L517 645.7M477.9 785.6L457.7 771.6L437.4 757.9L417.1 744.6L396.8 731.8L376.4 719.6L356 708L335.5 697.2L315 687.3L294.5 678.2L274 670.2L253.5 663.3L233.1 657.6L212.6 653.1M245.9 751.6L266.3 745.5L286.8 739L307.3 732.1L327.8 724.7L348.3 717L368.8 709L389.3 700.6L409.8 691.8L430.4 682.8L450.9 673.4L471.5 663.7L492.2 653.8L512.8 643.6M482 783.8L461.8 769.8L441.6 756.2L421.3 742.9L401 730.1L380.6 717.9L360.1 706.4L339.7 695.6L319.2 685.6L298.7 676.6L278.2 668.6L257.7 661.7L237.2 656L216.8 651.5M241.7 749.1L262.2 743.1L282.7 736.6L303.2 729.7L323.6 722.4L344.1 714.7L364.6 706.7L385.1 698.3L405.7 689.6L426.2 680.5L446.8 671.2L467.4 661.6L488 651.7L508.7 641.5M486.2 782L466 768.1L445.7 754.4L425.5 741.2L405.1 728.4L384.7 716.2L364.3 704.7L343.9 693.9L323.4 684L302.9 675L282.3 667L261.8 660.1L241.4 654.4L220.9 649.9M237.5 746.7L258 740.7L278.5 734.2L299 727.4L319.5 720.1L340 712.4L360.5 704.4L381 696L401.5 687.3L422.1 678.3L442.6 669L463.2 659.4L483.9 649.6L504.5 639.4M490.3 780.2L470.1 766.3L449.9 752.7L429.6 739.4L409.3 726.7L388.9 714.5L368.5 703L348 692.3L327.5 682.4L307 673.4L286.5 665.4L266 658.5L245.5 652.8L225.1 648.3M233.4 744.3L253.9 738.3L274.4 731.9L294.8 725.1L315.3 717.8L335.8 710.2L356.3 702.2L376.8 693.8L397.4 685.1L417.9 676.2L438.5 666.9L459.1 657.3L479.7 647.5L500.4 637.4M494.4 778.4L474.3 764.5L454.1 750.9L433.8 737.7L413.4 724.9L393.1 712.8L372.6 701.3L352.2 690.6L331.7 680.7L311.2 671.7L290.7 663.8L270.2 656.9L249.7 651.2L229.2 646.7M229.2 741.9L249.7 736L270.2 729.6L290.7 722.8L311.2 715.6L331.7 708L352.2 700L372.7 691.6L393.2 683L413.8 674L434.3 664.7L454.9 655.2L475.6 645.4L496.3 635.4M498.6 776.5L478.4 762.7L458.2 749.1L437.9 735.9L417.6 723.2L397.2 711.1L376.8 699.6L356.4 688.9L335.9 679L315.4 670.1L294.8 662.1L274.3 655.3L253.8 649.5L233.4 645M225 739.6L245.5 733.7L266 727.4L286.5 720.6L307 713.4L327.5 705.8L348 697.8L368.5 689.5L389.1 680.8L409.6 671.9L430.2 662.7L450.8 653.2L471.4 643.4L492.1 633.5M502.7 774.7L482.6 760.9L462.4 747.3L442.1 734.1L421.8 721.4L401.4 709.3L381 697.9L360.5 687.2L340 677.3L319.5 668.4L299 660.5L278.5 653.6L258 647.9L237.5 643.4M220.9 737.3L241.4 731.4L261.9 725.1L282.4 718.4L302.8 711.2L323.3 703.6L343.8 695.7L364.4 687.4L384.9 678.7L405.5 669.8L426 660.6L446.6 651.2L467.3 641.5L487.9 631.5M506.9 772.8L486.7 759L466.5 745.5L446.3 732.3L425.9 719.7L405.6 707.6L385.1 696.1L364.7 685.5L344.2 675.6L323.7 666.7L303.2 658.8L282.7 651.9L262.2 646.2L241.7 641.7M216.7 735L237.2 729.2L257.7 722.9L278.2 716.2L298.7 709.1L319.2 701.5L339.7 693.6L360.2 685.3L380.7 676.7L401.3 667.8L421.9 658.6L442.5 649.2L463.1 639.5L483.8 629.7M511 771L490.9 757.2L470.7 743.6L450.4 730.5L430.1 717.9L409.7 705.8L389.3 694.4L368.9 683.7L348.4 673.9L327.9 665L307.3 657.1L286.8 650.3L266.3 644.6L245.9 640.1M212.5 732.8L233 727L253.5 720.8L274 714.1L294.5 707L315 699.4L335.5 691.5L356 683.2L376.6 674.6L397.1 665.8L417.7 656.6L438.3 647.2L459 637.6L479.6 627.8M515.2 769.1L495 755.3L474.8 741.8L454.6 728.7L434.3 716.1L413.9 704L393.5 692.6L373 682L352.5 672.2L332 663.3L311.5 655.4L291 648.6L270.5 642.9L250 638.4M208.4 730.6L228.9 724.9L249.4 718.7L269.9 712L290.4 704.9L310.9 697.4L331.4 689.5L351.9 681.2L372.4 672.6L393 663.8L413.6 654.7L434.2 645.3L454.8 635.7L475.5 626M519.3 767.2L499.2 753.4L479 739.9L458.7 726.8L438.4 714.2L418.1 702.2L397.7 690.9L377.2 680.2L356.7 670.5L336.2 661.6L315.7 653.7L295.2 646.9L274.7 641.2L254.2 636.7M204.2 728.4L224.7 722.8L245.2 716.6L265.7 710L286.2 702.9L306.7 695.4L327.2 687.5L347.7 679.2L368.3 670.7L388.8 661.8L409.4 652.7L430 643.4L450.6 633.9L471.3 624.2M523.5 765.2L503.3 751.5L483.2 738L462.9 725L442.6 712.4L422.2 700.4L401.8 689.1L381.4 678.5L360.9 668.7L340.4 659.8L319.9 652L299.3 645.2L278.8 639.5L258.3 635M200 726.3L220.5 720.7L241 714.6L261.5 707.9L282 700.9L302.5 693.4L323 685.5L343.6 677.3L364.1 668.8L384.7 659.9L405.2 650.9L425.8 641.6L446.5 632.1L467.1 622.4M527.6 763.3L507.5 749.6L487.3 736.1L467.1 723.1L446.8 710.6L426.4 698.6L406 687.3L385.5 676.7L365.1 666.9L344.6 658.1L324 650.2L303.5 643.4L283 637.8L262.5 633.3M195.8 724.2L216.4 718.7L236.9 712.6L257.4 706L277.9 698.9L298.4 691.4L318.9 683.6L339.4 675.4L359.9 666.9L380.5 658.1L401.1 649L421.7 639.8L442.3 630.3L463 620.7M531.8 761.3L511.7 747.6L491.5 734.2L471.2 721.2L450.9 708.7L430.6 696.7L410.2 685.4L389.7 674.9L369.2 665.2L348.7 656.3L328.2 648.5L307.7 641.7L287.1 636.1L266.6 631.6M191.7 722.2L212.2 716.7L232.7 710.6L253.2 704L273.7 697L294.2 689.5L314.7 681.7L335.2 673.5L355.8 665L376.3 656.2L396.9 647.2L417.5 638L438.1 628.6L458.8 619M535.9 759.4L515.8 745.7L495.6 732.3L475.4 719.3L455.1 706.8L434.7 694.9L414.3 683.6L393.9 673.1L373.4 663.4L352.9 654.6L332.4 646.7L311.8 640L291.3 634.3L270.8 629.9M187.5 720.2L208 714.7L228.6 708.7L249 702.1L269.5 695.1L290 687.7L310.5 679.9L331.1 671.7L351.6 663.2L372.2 654.4L392.7 645.4L413.3 636.2L434 626.9L454.6 617.3M540.1 757.4L520 743.7L499.8 730.4L479.6 717.4L459.3 704.9L438.9 693L418.5 681.8L398.1 671.3L377.6 661.6L357.1 652.8L336.5 645L316 638.2L295.5 632.6L275 628.1M183.3 718.3L203.9 712.8L224.4 706.8L244.9 700.3L265.4 693.3L285.9 685.9L306.4 678.1L326.9 669.9L347.4 661.4L368 652.7L388.6 643.7L409.2 634.5L429.8 625.2L450.5 615.7M544.3 755.4L524.1 741.7L504 728.4L483.7 715.5L463.4 703L443.1 691.1L422.7 679.9L402.2 669.4L381.8 659.8L361.3 651L340.7 643.2L320.2 636.5L299.6 630.8L279.1 626.4M179.2 716.4L199.7 711L220.2 705L240.7 698.5L261.2 691.5L281.7 684.1L302.2 676.3L322.7 668.2L343.3 659.7L363.8 651L384.4 642L405 632.9L425.6 623.6L446.3 614.2M548.4 753.3L528.3 739.7L508.1 726.4L487.9 713.5L467.6 701.1L447.3 689.2L426.9 678L406.4 667.6L385.9 658L365.4 649.2L344.9 641.4L324.4 634.7L303.8 629.1L283.3 624.7M175 714.5L195.6 709.1L216.1 703.2L236.6 696.7L257.1 689.8L277.5 682.4L298.1 674.6L318.6 666.4L339.1 658L359.7 649.3L380.2 640.4L400.8 631.3L421.5 622L442.1 612.6M552.6 751.3L532.5 737.7L512.3 724.4L492.1 711.6L471.8 699.2L451.4 687.3L431 676.2L410.6 665.7L390.1 656.1L369.6 647.4L349.1 639.7L328.5 632.9L308 627.3L287.5 622.9M170.9 712.7L191.4 707.4L211.9 701.5L232.4 695L252.9 688.1L273.4 680.7L293.9 672.9L314.4 664.8L334.9 656.4L355.5 647.7L376.1 638.8L396.7 629.7L417.3 620.4L438 611.1M556.7 749.2L536.6 735.7L516.5 722.4L496.2 709.6L476 697.2L455.6 685.4L435.2 674.3L414.8 663.9L394.3 654.3L373.8 645.6L353.3 637.9L332.7 631.2L312.2 625.6L291.6 621.2M166.7 710.9L187.2 705.6L207.7 699.8L228.2 693.3L248.7 686.4L269.2 679L289.7 671.3L310.2 663.2L330.8 654.7L351.3 646.1L371.9 637.2L392.5 628.1L413.1 618.9L433.8 609.6M560.9 747.1L540.8 733.6L520.6 720.4L500.4 707.6L480.1 695.3L459.8 683.5L439.4 672.4L419 662L398.5 652.4L378 643.8L357.4 636.1L336.9 629.4L316.3 623.8L295.8 619.4M162.5 709.2L183.1 704L203.6 698.1L224.1 691.7L244.6 684.8L265.1 677.4L285.6 669.7L306.1 661.6L326.6 653.2L347.1 644.5L367.7 635.7L388.3 626.6L408.9 617.5L429.6 608.2M565.1 745L545 731.5L524.8 718.4L504.6 705.6L484.3 693.3L464 681.5L443.6 670.5L423.1 660.1L402.7 650.6L382.1 641.9L361.6 634.2L341.1 627.6L320.5 622L300 617.7M158.4 707.5L178.9 702.3L199.4 696.5L219.9 690.1L240.4 683.2L260.9 675.9L281.4 668.1L301.9 660L322.4 651.7L343 643L363.5 634.2L384.1 625.2L404.8 616L425.4 606.8M569.2 742.9L549.1 729.4L529 716.3L508.8 703.5L488.5 691.3L468.2 679.6L447.8 668.5L427.3 658.2L406.8 648.7L386.3 640.1L365.8 632.4L345.2 625.8L324.7 620.3L304.1 615.9M154.2 705.9L174.8 700.7L195.3 694.9L215.8 688.6L236.2 681.7L256.7 674.4L277.2 666.6L297.7 658.5L318.3 650.2L338.8 641.5L359.4 632.7L380 623.7L400.6 614.7L421.2 605.5M573.4 740.7L553.3 727.3L533.2 714.2L512.9 701.5L492.7 689.3L472.3 677.6L452 666.6L431.5 656.3L411 646.8L390.5 638.2L370 630.6L349.4 624L328.9 618.5L308.3 614.1M150.1 704.3L170.6 699.2L191.1 693.4L211.6 687.1L232.1 680.2L252.6 672.9L273.1 665.2L293.6 657.1L314.1 648.7L334.6 640.1L355.2 631.3L375.8 622.4L396.4 613.3L417.1 604.2M577.6 738.6L557.5 725.2L537.3 712.1L517.1 699.4L496.9 687.3L476.5 675.6L456.1 664.6L435.7 654.4L415.2 644.9L394.7 636.4L374.2 628.8L353.6 622.2L333 616.7L312.5 612.4M145.9 702.8L166.4 697.7L186.9 692L207.4 685.6L227.9 678.8L248.4 671.5L268.9 663.8L289.4 655.7L309.9 647.3L330.5 638.7L351 630L371.6 621L392.2 612L412.9 602.9M581.7 736.4L561.7 723L541.5 710L521.3 697.4L501 685.2L480.7 673.6L460.3 662.7L439.9 652.5L419.4 643.1L398.9 634.5L378.3 627L357.8 620.4L337.2 614.9L316.7 610.6M141.8 701.3L162.3 696.3L182.8 690.5L203.3 684.2L223.8 677.4L244.2 670.1L264.7 662.4L285.2 654.3L305.7 646L326.3 637.4L346.8 628.6L367.4 619.7L388 610.8L408.7 601.7M585.9 734.2L565.8 720.9L545.7 707.9L525.5 695.3L505.2 683.2L484.9 671.6L464.5 660.7L444.1 650.5L423.6 641.2L403.1 632.7L382.5 625.1L362 618.6L341.4 613.1L320.8 608.9M137.6 699.9L158.1 694.9L178.6 689.2L199.1 682.9L219.6 676.1L240.1 668.8L260.6 661.1L281.1 653L301.6 644.7L322.1 636.1L342.7 627.4L363.2 618.5L383.9 609.5L404.5 600.6M590.1 731.9L570 718.7L549.9 705.7L529.7 693.2L509.4 681.1L489.1 669.6L468.7 658.7L448.3 648.6L427.8 639.2L407.3 630.8L386.7 623.3L366.1 616.8L345.6 611.4L325 607.1M133.5 698.6L154 693.5L174.5 687.9L195 681.6L215.5 674.8L235.9 667.5L256.4 659.8L276.9 651.8L297.4 643.4L317.9 634.9L338.5 626.2L359.1 617.3L379.7 608.4L400.3 599.4M594.3 729.7L574.2 716.5L554.1 703.6L533.9 691.1L513.6 679L493.3 667.6L472.9 656.7L452.5 646.6L432 637.3L411.5 628.9L390.9 621.4L370.3 615L349.8 609.6L329.2 605.3M129.3 697.2L149.8 692.3L170.3 686.6L190.8 680.3L211.3 673.5L231.8 666.3L252.2 658.6L272.7 650.6L293.2 642.2L313.8 633.7L334.3 625L354.9 616.1L375.5 607.2L396.1 598.3M598.4 727.4L578.4 714.2L558.2 701.4L538 688.9L517.8 676.9L497.5 665.5L477.1 654.7L456.6 644.7L436.2 635.4L415.6 627L395.1 619.6L374.5 613.1L353.9 607.8L333.4 603.6M125.2 696L145.7 691L166.2 685.4L186.7 679.1L207.1 672.4L227.6 665.1L248.1 657.4L268.6 649.4L289.1 641.1L309.6 632.5L330.1 623.8L350.7 615L371.3 606.2L392 597.3M602.6 725.1L582.6 712L562.4 699.2L542.2 686.8L522 674.8L501.7 663.4L481.3 652.7L460.8 642.7L440.4 633.5L419.8 625.1L399.3 617.7L378.7 611.3L358.1 606L337.5 601.8M121 694.8L141.6 689.8L162.1 684.2L182.5 678L203 671.2L223.5 664L243.9 656.3L264.4 648.3L284.9 640L305.4 631.4L326 622.8L346.5 614L367.1 605.1L387.8 596.3M606.8 722.8L586.7 709.7L566.6 697L546.4 684.6L526.2 672.7L505.8 661.4L485.5 650.7L465 640.7L444.6 631.5L424 623.2L403.5 615.9L382.9 609.5L362.3 604.2L341.7 600M116.9 693.6L137.4 688.7L157.9 683.1L178.4 676.9L198.8 670.1L219.3 662.9L239.8 655.2L260.2 647.2L280.7 638.9L301.3 630.4L321.8 621.7L342.4 612.9L363 604.1L383.6 595.3M611 720.4L590.9 707.4L570.8 694.7L550.6 682.4L530.4 670.6L510 659.3L489.7 648.6L469.2 638.7L448.7 629.6L428.2 621.3L407.7 614L387.1 607.7L366.5 602.4L345.9 598.3M112.8 692.5L133.3 687.6L153.8 682.1L174.2 675.9L194.7 669.1L215.2 661.9L235.6 654.2L256.1 646.2L276.6 637.9L297.1 629.4L317.6 620.7L338.2 612L358.8 603.2L379.4 594.4M615.2 718.1L595.1 705.1L575 692.5L554.8 680.2L534.6 668.4L514.2 657.2L493.9 646.6L473.4 636.7L452.9 627.6L432.4 619.4L411.9 612.1L391.3 605.8L370.7 600.6L350.1 596.5M108.6 691.5L129.2 686.6L149.6 681.1L170.1 674.9L190.6 668.1L211 660.9L231.5 653.2L251.9 645.2L272.4 636.9L292.9 628.4L313.4 619.8L334 611.1L354.6 602.3L375.2 593.6M619.4 715.7L599.3 702.8L579.2 690.2L559 678L538.7 666.2L518.4 655.1L498.1 644.5L477.6 634.7L457.1 625.7L436.6 617.5L416.1 610.3L395.5 604L374.9 598.8L354.3 594.8M104.5 690.5L125 685.7L145.5 680.1L166 674L186.4 667.2L206.9 660L227.3 652.3L247.8 644.3L268.2 636L288.7 627.5L309.3 618.9L329.8 610.2L350.4 601.5L371 592.8M623.6 713.3L603.5 700.4L583.4 687.9L563.2 675.7L542.9 664.1L522.6 652.9L502.3 642.5L481.8 632.7L461.3 623.7L440.8 615.6L420.3 608.4L399.7 602.2L379.1 597.1L358.5 593M100.4 689.6L120.9 684.8L141.4 679.2L161.8 673.1L182.3 666.3L202.7 659.1L223.2 651.4L243.6 643.4L264.1 635.2L284.6 626.7L305.1 618L325.6 609.4L346.2 600.7L366.8 592M627.8 710.8L607.7 698.1L587.6 685.6L567.4 673.5L547.1 661.9L526.8 650.8L506.5 640.4L486 630.7L465.5 621.7L445 613.7L424.5 606.5L403.9 600.4L383.3 595.3L362.7 591.3M96.3 688.7L116.8 683.9L137.3 678.4L157.7 672.3L178.1 665.5L198.6 658.3L219 650.6L239.5 642.6L259.9 634.3L280.4 625.9L300.9 617.3L321.5 608.6L342 599.9L362.7 591.3" fill="none" stroke="#000" stroke-width="0.92"/>
<text x="92.6" y="880.3" font-size="21" text-anchor="end" fill="#000" color="#000" >0.6</text>
<text x="90.8" y="842.6" font-size="21" text-anchor="end" fill="#000" color="#000" >0.7</text>
<text x="88.9" y="804.8" font-size="21" text-anchor="end" fill="#000" color="#000" >0.8</text>
<text x="87.1" y="767.1" font-size="21" text-anchor="end" fill="#000" color="#000" >0.9</text>
<text x="85.3" y="729.4" font-size="21" text-anchor="end" fill="#000" color="#000" >1</text>
<text x="83.5" y="691.7" font-size="21" text-anchor="end" fill="#000" color="#000" >1.1</text>
<text x="81.6" y="653.9" font-size="21" text-anchor="end" fill="#000" color="#000" >1.2</text>
<text x="79.8" y="616.2" font-size="21" text-anchor="end" fill="#000" color="#000" >1.3</text>
<text transform="translate(17.2,931.8) rotate(-90)" font-size="20.5" textLength="263" lengthAdjust="spacingAndGlyphs">TP content (g GAE/100g DW)</text>
<text x="374.6" y="1109.5" font-size="21" text-anchor="start" fill="#000" color="#000" >20</text>
<text x="437.9" y="1079.2" font-size="21" text-anchor="start" fill="#000" color="#000" >25</text>
<text x="501.1" y="1049" font-size="21" text-anchor="start" fill="#000" color="#000" >30</text>
<text x="564.4" y="1018.7" font-size="21" text-anchor="start" fill="#000" color="#000" >35</text>
<text x="627.7" y="988.5" font-size="21" text-anchor="start" fill="#000" color="#000" >40</text>
<text x="72.5" y="986.9" font-size="21" text-anchor="start" fill="#000" color="#000" >60</text>
<text x="136" y="1016.6" font-size="21" text-anchor="start" fill="#000" color="#000" >55</text>
<text x="198.7" y="1046.6" font-size="21" text-anchor="start" fill="#000" color="#000" >50</text>
<text x="261.2" y="1077" font-size="21" text-anchor="start" fill="#000" color="#000" >45</text>
<text x="324.3" y="1108" font-size="21" text-anchor="start" fill="#000" color="#000" >40</text>
<text x="61.9" y="1079.7" font-size="21" text-anchor="start" fill="#000" color="#000" textLength="112.8" lengthAdjust="spacingAndGlyphs">Temperature</text>
<text x="185.6" y="1079.8" font-size="18"><tspan font-weight="bold">(</tspan><tspan font-size="19" style="font-family:'Noto Sans CJK SC',sans-serif">℃</tspan><tspan font-weight="bold">)</tspan></text>
<text x="539.1" y="1080.4" font-size="21" text-anchor="start" fill="#000" color="#000" textLength="96" lengthAdjust="spacingAndGlyphs">Time (min)</text>
<text x="644.6" y="607.1" font-size="30" text-anchor="start" fill="#000" color="#000" >B</text>
<text x="659.6" y="741.6" font-size="20.5" text-anchor="start" fill="#000" color="#000" textLength="270.7" lengthAdjust="spacingAndGlyphs">TP content (g GAE/100g DW)</text>
<defs><linearGradient id="lg530" x1="0" y1="0" x2="0" y2="1"><stop offset="0" stop-color="#ff0000"/><stop offset="0.5" stop-color="#00ff00"/><stop offset="1" stop-color="#0000ff"/></linearGradient></defs>
<rect x="665" y="749.6" width="15.8" height="71.5" fill="url(#lg530)" stroke="#202020" stroke-width="1"/>
<text x="688.1" y="765.8" font-size="20" text-anchor="start" fill="#ff0000" color="#ff0000" >1.28</text>
<text x="687.9" y="815.4" font-size="20" text-anchor="start" fill="#0000ff" color="#0000ff" >0.68425</text>
<path d="M105.8 1454.3L362.3 1367.2L619 1454.6M104 1416.6L362.4 1333.3L620.9 1417M102.1 1378.8L362.4 1299.4L622.8 1379.4M100.3 1341.1L362.5 1265.4L624.7 1341.7M98.5 1303.4L362.5 1231.5L626.6 1304.1M96.7 1265.7L362.6 1197.6L628.4 1266.5M94.8 1227.9L362.6 1163.6L630.3 1228.8M93 1190.2L362.7 1129.7L632.2 1191.2M169.9 1432.5L160.4 1175.1M554.9 1432.8L564.8 1175.8M234.1 1410.8L227.8 1160M490.7 1410.9L497.5 1160.5M298.2 1389L295.3 1144.8M426.5 1389.1L430.1 1145.1M109.8 1537.3L93 1190.2M362.2 1441.9L362.7 1129.7M614.9 1537.4L632.2 1191.2" fill="none" stroke="#303030" stroke-width="1"/>
<polygon points="361.8,1658.4 614.9,1537.4 362.2,1441.9 109.8,1537.3" fill="#ffff00"/>
<polyline points="498.1,1493.2 484.5,1496.6 472.4,1498.9 459.2,1500.6 444.7,1501.8 430.5,1502.4 415.3,1502.3 400.6,1501.5 386.2,1500.2 371,1498.2 358.8,1496 345.2,1493 332.5,1489.5 320.8,1485.7 307.9,1480.6 296.3,1475.1 287.6,1470.1" fill="none" stroke="#ff8c00" stroke-width="1"/>
<polyline points="597,1530.6 575.8,1536.9 552.5,1542.3 526.8,1546.7 502.2,1549.5 476.5,1551.2 449.9,1551.8 422,1551 396.1,1549.2 369.4,1546.1 344.9,1542.1 319.3,1536.7 295.7,1530.4 274,1523.3 254.2,1515.3 236.4,1506.6 227.3,1501.4 218.9,1496.1" fill="none" stroke="#c8ff00" stroke-width="1"/>
<polyline points="478.7,1602.5 453,1601.8 430.5,1600.4 406.1,1598.4 379.5,1595.3 357.1,1592.2 332.5,1588 308.9,1583.3 286.4,1578.1 264.8,1572.3 244.4,1566.1 225.1,1559.3 209.1,1552.9 192.1,1545.2 178.3,1538 163.8,1529.3 152.2,1521.3" fill="none" stroke="#30ff00" stroke-width="1"/>
<polyline points="413.3,1633.8 368.5,1627.7 324.9,1620.2 283.7,1611.5 261.1,1606.1 242.6,1601.1" fill="none" stroke="#00ff8c" stroke-width="1"/>
<polygon points="361.8,1658.4 614.9,1537.4 362.2,1441.9 109.8,1537.3" fill="none" stroke="#303030" stroke-width="1"/>
<g fill="#000"><circle cx="105.8" cy="1454.3" r="1.8"/><circle cx="104" cy="1416.6" r="1.8"/><circle cx="102.1" cy="1378.8" r="1.8"/><circle cx="100.3" cy="1341.1" r="1.8"/><circle cx="98.5" cy="1303.4" r="1.8"/><circle cx="96.7" cy="1265.7" r="1.8"/><circle cx="94.8" cy="1227.9" r="1.8"/><circle cx="93" cy="1190.2" r="1.8"/><circle cx="361.8" cy="1658.4" r="1.8"/><circle cx="361.8" cy="1658.4" r="1.8"/><circle cx="298.8" cy="1628.1" r="1.8"/><circle cx="425.1" cy="1628.2" r="1.8"/><circle cx="235.8" cy="1597.8" r="1.8"/><circle cx="488.4" cy="1597.9" r="1.8"/><circle cx="172.8" cy="1567.6" r="1.8"/><circle cx="551.6" cy="1567.7" r="1.8"/><circle cx="109.8" cy="1537.3" r="1.8"/><circle cx="614.9" cy="1537.4" r="1.8"/></g>
<path d="M362 1484.2L361.9 1484.3L361.6 1484.1Z" fill="#00cfff" stroke="#00cfff" stroke-width="0.6" fill-rule="evenodd"/>
<path d="M359.7 1482.7L350.3 1475.4L367.2 1478L362 1484.2Z" fill="#00e0ff" stroke="#00e0ff" stroke-width="0.6" fill-rule="evenodd"/>
<path d="M354.6 1476L350.3 1475.4L338.8 1466.5L372.5 1471.8L367.2 1478Z" fill="#00f1ff" stroke="#00f1ff" stroke-width="0.6" fill-rule="evenodd"/>
<path d="M344 1467.4L338.8 1466.5L327.2 1457.6L378 1465.5L372.5 1471.8Z" fill="#00fffc" stroke="#00fffc" stroke-width="0.6" fill-rule="evenodd"/>
<path d="M333.4 1458.7L327.2 1457.6L315.1 1448.7L350.6 1454.4L383.5 1459.2L378 1465.5Z" fill="#00ffeb" stroke="#00ffeb" stroke-width="0.6" fill-rule="evenodd"/>
<path d="M319.9 1449.5L315.1 1448.7L302.7 1439.5L345.8 1446.7L389.1 1452.8L383.5 1459.2Z" fill="#00ffda" stroke="#00ffda" stroke-width="0.6" fill-rule="evenodd"/>
<path d="M309.6 1440.8L302.7 1439.5L289.7 1430.2L341 1439L394.9 1446.5L389.1 1452.8L347.2 1447Z" fill="#00ffc9" stroke="#00ffc9" stroke-width="0.6" fill-rule="evenodd"/>
<path d="M296.3 1431.5L289.7 1430.2L276 1420.6L307 1426.5L335.9 1431.3L369.9 1436.2L400.8 1440.1L394.9 1446.5L346.2 1439.8Z" fill="#00ffb7" stroke="#00ffb7" stroke-width="0.6" fill-rule="evenodd"/>
<path d="M283.4 1422.1L276 1420.6L261.2 1410.6L294.7 1417.3L331.8 1423.7L370.4 1429.3L406.9 1433.6L400.8 1440.1L342.2 1432.2L313.9 1427.7Z" fill="#00ffa6" stroke="#00ffa6" stroke-width="0.6" fill-rule="evenodd"/>
<path d="M267.7 1412L261.2 1410.6L244.7 1400L284.9 1408.5L325.4 1415.7L366.5 1421.7L413.1 1427.1L406.9 1433.6L371.6 1429.4L337.8 1424.6L301.5 1418.6Z" fill="#00ff95" stroke="#00ff95" stroke-width="0.6" fill-rule="evenodd"/>
<path d="M252.6 1401.8L244.7 1400L225.5 1388.3L269.4 1398.5L317.8 1407.5L367.9 1414.9L419.5 1420.6L413.1 1427.1L392.8 1425L353.4 1419.9L318.5 1414.6L284.9 1408.5Z" fill="#00ff84" stroke="#00ff84" stroke-width="0.6" fill-rule="evenodd"/>
<path d="M235.2 1390.7L225.5 1388.3L200.4 1374.3L224 1380.9L248.8 1387L274.8 1392.6L304.8 1398.3L335.5 1403.3L365.1 1407.5L394.6 1411L426.1 1414L419.5 1420.6L378.9 1416.2L341 1411.2L304.8 1405.3L269.4 1398.5ZM113 1339.1L100.1 1336L103.4 1332.6L114.8 1339.6Z" fill="#00ff73" stroke="#00ff73" stroke-width="0.6" fill-rule="evenodd"/>
<path d="M213.3 1378L200.4 1374.3L176.3 1362.3L152.2 1352L132.6 1344.9L114.8 1339.6L103.4 1332.6L108.4 1327.3L120.2 1334.5L133.2 1341.3L147.2 1347.8L162.4 1354L178.4 1360L198 1366.3L237.4 1377.2L283.2 1387.3L329.7 1395.5L381.1 1402.4L432.8 1407.3L426.1 1414L394.6 1411L358.5 1406.6L320.3 1401L280.7 1393.8L246 1386.3Z" fill="#00ff62" stroke="#00ff62" stroke-width="0.6" fill-rule="evenodd"/>
<path d="M176.1 1359.1L157.9 1352.3L143.1 1346L127.5 1338.4L115 1331.5L108.4 1327.3L113.5 1322.1L125.3 1329.2L138.3 1335.9L152.4 1342.4L169.8 1349.4L186 1355.2L205.7 1361.5L245.6 1372.2L291.7 1382L338.1 1389.8L390.2 1396.3L439.8 1400.6L432.8 1407.3L381.1 1402.4L329.1 1395.4L286.2 1387.9L245.7 1379.2L208.1 1369.4Z" fill="#00ff51" stroke="#00ff51" stroke-width="0.6" fill-rule="evenodd"/>
<path d="M195.7 1358.4L176.6 1352L158.8 1345.1L142.2 1337.8L128.9 1331.1L113.5 1322.1L118.6 1316.9L130.5 1323.9L143.5 1330.6L157.6 1337L175 1343.9L191.3 1349.7L211.1 1355.9L251 1366.4L297.4 1376.1L345.7 1383.8L397 1389.9L447 1393.8L439.8 1400.6L390.8 1396.4L344.7 1390.7L303.8 1384.2L265.3 1376.7L229.2 1368.1Z" fill="#00ff40" stroke="#00ff40" stroke-width="0.6" fill-rule="evenodd"/>
<path d="M191.3 1349.7L172.8 1343.1L157.6 1337L141.6 1329.6L128.7 1322.9L118.6 1316.9L123.8 1311.6L135.7 1318.6L148.7 1325.2L162.9 1331.6L180.3 1338.4L196.7 1344.1L216.4 1350.3L237.4 1356L259.3 1361.3L303.2 1370.1L353.5 1377.9L403.6 1383.4L454.4 1386.9L447 1393.8L397 1389.9L344.1 1383.6L301.7 1376.9L262.3 1369L224 1359.5Z" fill="#00ff2e" stroke="#00ff2e" stroke-width="0.6" fill-rule="evenodd"/>
<path d="M175.8 1336.8L160.8 1330.7L146.8 1324.3L133.9 1317.6L123.8 1311.6L129 1306.4L140.9 1313.3L156 1320.8L170.3 1327L188 1333.8L204.5 1339.4L224.5 1345.4L245.6 1350.9L267.8 1356.1L291 1360.9L315.2 1365.2L363.1 1372.1L414.4 1377.2L462.2 1379.9L454.4 1386.9L421.6 1384.9L391.5 1382.3L360 1378.7L332.4 1374.9L288.2 1367.3L248.2 1358.7L208.9 1348Z" fill="#00ff1d" stroke="#00ff1d" stroke-width="0.6" fill-rule="evenodd"/>
<path d="M202.1 1338.6L183.4 1332.1L168.2 1326.1L154 1319.9L139.2 1312.3L129 1306.4L134.3 1301.2L146.2 1308L161.3 1315.4L175.7 1321.6L193.4 1328.3L212.4 1334.6L230 1339.7L251.3 1345.2L273.6 1350.3L318.6 1358.7L343.4 1362.5L369.6 1365.8L421.4 1370.6L470.3 1372.9L462.2 1379.9L437.9 1378.8L409.8 1376.8L383.2 1374.4L356.5 1371.3L315.2 1365.2L273.5 1357.3L234.9 1348.2Z" fill="#00ff0c" stroke="#00ff0c" stroke-width="0.6" fill-rule="evenodd"/>
<path d="M186.6 1325.8L171.5 1319.8L157.4 1313.6L144.5 1307L134.3 1301.2L139.6 1295.9L151.6 1302.7L166.7 1310L183.3 1317L201.2 1323.6L218 1329L238.3 1334.8L259.7 1340.1L282.3 1345.1L305.9 1349.5L330.6 1353.6L379.6 1359.8L429 1363.9L478.7 1365.7L470.3 1372.9L439.9 1371.7L410 1369.7L379.7 1366.9L346.6 1362.9L302.9 1356L259.5 1347.2L237.9 1341.8L219.9 1336.8Z" fill="#05ff00" stroke="#05ff00" stroke-width="0.6" fill-rule="evenodd"/>
<path d="M208.3 1325.9L189.9 1319.5L174.9 1313.6L160.9 1307.3L146.3 1299.8L139.6 1295.9L145 1290.7L157.1 1297.4L172.2 1304.7L188.8 1311.5L206.8 1318L223.7 1323.4L244 1329.1L265.6 1334.3L288.3 1339.2L312.1 1343.6L336.9 1347.5L386.5 1353.4L411.1 1355.5L437.5 1357.1L463.4 1358L487.5 1358.3L478.7 1365.7L448.4 1364.8L421.7 1363.4L393.3 1361.2L367.4 1358.5L324.3 1352.6L282.3 1345.1L243.5 1336.1Z" fill="#16ff00" stroke="#16ff00" stroke-width="0.6" fill-rule="evenodd"/>
<path d="M223.7 1323.4L204.5 1317.2L186.7 1310.7L170.3 1303.8L157.1 1297.4L145 1290.7L150.5 1285.5L164.4 1293L177.8 1299.3L194.5 1306.1L212.5 1312.5L231.9 1318.5L252.5 1324L274.4 1329.2L297.3 1333.8L321.5 1338.1L346.7 1341.8L373.1 1345L397.2 1347.3L422.2 1349.1L447.5 1350.3L472.6 1350.9L496.9 1350.8L487.5 1358.3L459.5 1357.9L432.9 1356.9L404.1 1355L380.1 1352.8L336.9 1347.5L297.1 1340.9L257.4 1332.4Z" fill="#27ff00" stroke="#27ff00" stroke-width="0.6" fill-rule="evenodd"/>
<path d="M212.5 1312.5L194.5 1306.1L179.8 1300.2L164.4 1293L152.1 1286.5L150.5 1285.5L156 1280.3L170 1287.7L185.5 1294.8L202.4 1301.4L220.7 1307.7L240.3 1313.6L261.2 1319L283.3 1323.9L306.6 1328.5L331.1 1332.5L356.7 1336L383.6 1338.9L408.2 1341L457 1343.3L481.3 1343.5L506.8 1343.1L496.9 1350.8L467.7 1350.8L437.1 1349.9L407.8 1348.1L376.5 1345.3L330.8 1339.5L288.6 1332.2L249.9 1323.4L231.9 1318.5Z" fill="#38ff00" stroke="#38ff00" stroke-width="0.6" fill-rule="evenodd"/>
<path d="M227.9 1310L209.1 1303.8L193.7 1298.2L179.5 1292.2L164.6 1285L156 1280.3L161.6 1275L177.5 1283.3L193.2 1290.2L210.4 1296.8L229 1302.9L248.8 1308.6L270 1313.9L292.4 1318.7L316.1 1323L340.9 1326.8L367 1330.1L391 1332.4L419.6 1334.5L446.1 1335.7L470.8 1336.1L494.1 1336L517.4 1335.2L506.8 1343.1L481.2 1343.5L452 1343.2L420.3 1341.8L391.6 1339.6L346.9 1334.7L303.6 1327.9L263.9 1319.6Z" fill="#49ff00" stroke="#49ff00" stroke-width="0.6" fill-rule="evenodd"/>
<path d="M238.7 1305.8L219.5 1299.9L201.6 1293.5L185.2 1286.8L172 1280.6L161.6 1275L167.4 1269.8L181.4 1277.1L197 1284L216.3 1291.3L235 1297.3L255 1302.9L276.3 1308.1L301.8 1313.3L325.8 1317.4L351.1 1321L377.7 1324.1L402.1 1326.2L429.5 1327.8L455.1 1328.6L479.1 1328.8L506 1328.1L528.8 1326.9L517.4 1335.2L489.5 1336L461.1 1336L434.5 1335.3L405.1 1333.6L360.4 1329.3L316.1 1323L275.5 1315.1Z" fill="#5bff00" stroke="#5bff00" stroke-width="0.6" fill-rule="evenodd"/>
<path d="M227.8 1295.1L209.7 1288.9L195 1283.1L181.4 1277.1L167.4 1269.8L173.2 1264.6L187.3 1271.7L205 1279.4L224.6 1286.5L243.5 1292.4L266.5 1298.5L288.3 1303.4L311.4 1307.9L335.8 1311.8L361.5 1315.2L388.7 1317.9L413.7 1319.7L438.8 1320.9L464.1 1321.4L491.3 1321.1L517.1 1320.1L541.4 1318.3L528.8 1326.9L518.7 1327.5L488.3 1328.6L460.1 1328.7L429.5 1327.8L401.8 1326.2L354.3 1321.5L330 1318.1L307.7 1314.4L287.4 1310.5L265.5 1305.5L247.3 1300.9Z" fill="#6cff00" stroke="#6cff00" stroke-width="0.6" fill-rule="evenodd"/>
<path d="M238.7 1291L220.1 1285L205 1279.4L191.1 1273.5L176.6 1266.4L173.2 1264.6L179.1 1259.3L195.2 1267.3L213.2 1274.7L233.1 1281.7L252.3 1287.5L275.6 1293.4L297.7 1298.1L324.2 1302.9L348.6 1306.4L375.3 1309.5L400.2 1311.6L427.1 1313.2L453.2 1313.9L480.8 1313.9L507 1313L531.3 1311.4L555.4 1309.1L541.4 1318.3L533.3 1319L504.4 1320.7L477.8 1321.4L449 1321.2L417.4 1320L392.2 1318.2L368.2 1315.9L343.3 1312.9L320.4 1309.4L299.6 1305.7L277.2 1301L258.6 1296.5Z" fill="#7dff00" stroke="#7dff00" stroke-width="0.6" fill-rule="evenodd"/>
<path d="M247.4 1286.1L228.5 1280.2L213.2 1274.7L199 1269L184.2 1262L179.1 1259.3L185.1 1254L201.3 1261.9L219.4 1269.3L239.4 1276.1L261.3 1282.4L284.9 1288.2L307.4 1292.7L331.5 1296.8L360 1300.6L387.1 1303.4L414.7 1305.3L441 1306.3L469.9 1306.6L496.6 1305.9L521.4 1304.5L548.1 1302.1L571.6 1299.1L555.4 1309.1L546.7 1310.1L519.4 1312.3L489.7 1313.7L461.4 1314L429.7 1313.3L405.1 1312L381.5 1310.1L355.7 1307.3L333.5 1304.3L309.4 1300.3L289.3 1296.4L267.6 1291.5Z" fill="#8eff00" stroke="#8eff00" stroke-width="0.6" fill-rule="evenodd"/>
<path d="M256.3 1281.1L237.1 1275.4L221.5 1270.1L205.1 1263.6L190.3 1256.7L185.1 1254L191.3 1248.8L207.5 1256.5L227.9 1264.6L248.2 1271.2L270.5 1277.4L294.5 1282.9L320.4 1287.8L348.2 1291.9L377.8 1295.3L406.1 1297.5L434.1 1298.8L463.4 1299.2L490.3 1298.6L515.2 1297.3L542 1295L566.8 1291.9L591.7 1287.8L571.6 1299.1L562.5 1300.4L533.1 1303.6L505 1305.6L474.5 1306.5L446 1306.5L420.2 1305.6L397.6 1304.2L373.3 1302.1L347 1299L322.2 1295.3L298.8 1291.1L276.8 1286.3Z" fill="#9fff00" stroke="#9fff00" stroke-width="0.6" fill-rule="evenodd"/>
<path d="M262.8 1275.4L243.5 1269.8L227.9 1264.6L211.4 1258.2L196.5 1251.4L191.3 1248.8L197.6 1243.5L215.9 1251.9L236.6 1259.8L259.7 1267L285.2 1273.5L313 1279.2L340 1283.5L369.1 1287.1L399.5 1289.8L430.3 1291.3L458.5 1291.8L488 1291.2L516.7 1289.5L543 1287L570.6 1283.3L595.9 1278.7L621.1 1272.9L591.7 1287.8L580.2 1289.8L552.9 1293.7L523.1 1296.7L494.5 1298.5L464.8 1299.2L439.1 1299L412.9 1297.9L384.8 1295.9L358.1 1293.2L332.5 1289.7L308.7 1285.7L286.3 1281.1Z" fill="#b0ff00" stroke="#b0ff00" stroke-width="0.6" fill-rule="evenodd"/>
<path d="M267.1 1269L250.2 1264.2L232.2 1258.3L215.9 1251.9L201.1 1245.2L197.6 1243.5L204.1 1238.1L220.5 1245.7L241.1 1253.5L264.1 1260.6L287 1266.4L311.7 1271.6L338.5 1276L365.9 1279.5L394.8 1282.1L419.1 1283.5L444.5 1284.2L472.4 1284.1L497 1283.1L529.2 1280.7L560.8 1276.7L592.3 1271.1L620.4 1264.4L628.3 1269.6L621.1 1272.9L601.8 1277.5L577.2 1282.2L553.7 1285.7L528.2 1288.6L504.7 1290.4L479.3 1291.5L456.5 1291.8L432 1291.4L405.2 1290.2L381.6 1288.4L355.9 1285.6L333 1282.5L310.1 1278.6L287.8 1274.1Z" fill="#c1ff00" stroke="#c1ff00" stroke-width="0.6" fill-rule="evenodd"/>
<path d="M271.5 1262.6L254.6 1257.8L236.8 1252L220.5 1245.7L207.6 1239.9L204.1 1238.1L210.8 1232.8L227.2 1240.2L245.8 1247.2L266.4 1253.6L289 1259.3L313.6 1264.5L337.2 1268.4L362.5 1271.8L389.6 1274.4L418.9 1276.1L446.7 1276.8L478.4 1276.3L507.2 1274.8L533.4 1272.3L560.7 1268.6L585.5 1264L610.8 1258.1L620.4 1264.4L601.1 1269.2L583.3 1272.9L560.8 1276.7L540.1 1279.5L517.9 1281.7L493.9 1283.3L472.4 1284.1L449.4 1284.3L424.5 1283.7L402.6 1282.7L378.8 1280.8L357.4 1278.5L335.4 1275.5L311.7 1271.6L289.6 1267Z" fill="#d2ff00" stroke="#d2ff00" stroke-width="0.6" fill-rule="evenodd"/>
<path d="M273.7 1255.6L257 1250.8L239.4 1244.9L225.3 1239.4L210.8 1232.8L217.7 1227.4L234.2 1234.8L252.9 1241.6L273.6 1247.8L293.8 1252.9L318.5 1257.9L342.3 1261.7L364.9 1264.6L390.4 1267L418.4 1268.6L445.3 1269.2L471.3 1268.9L500 1267.5L526.4 1265.1L553.7 1261.5L578.5 1257L600.9 1251.8L610.8 1258.1L591.4 1262.8L573.4 1266.4L554.1 1269.6L533.4 1272.3L511.1 1274.5L491.1 1275.8L469.7 1276.6L446.7 1276.8L422.8 1276.3L400.4 1275.1L375.8 1273.2L356 1271L334.1 1268L313.6 1264.5L291.6 1259.9Z" fill="#e3ff00" stroke="#e3ff00" stroke-width="0.6" fill-rule="evenodd"/>
<path d="M273.6 1247.8L259.6 1243.7L244.3 1238.6L230.3 1233.2L217.7 1227.4L224.8 1222L241.4 1229.2L258 1235.2L276.3 1240.7L296.3 1245.7L318 1250.2L338.5 1253.7L363.6 1257L387.2 1259.3L414.7 1261L440.2 1261.6L467.6 1261.3L494.7 1260L522.6 1257.5L546.4 1254.3L568.1 1250.5L590.6 1245.4L600.9 1251.8L581.4 1256.4L563.3 1259.9L543.8 1263L522.7 1265.5L500 1267.5L480.5 1268.6L438.7 1269.2L417.5 1268.6L395.4 1267.4L371.6 1265.3L351.6 1263L330.2 1259.9L310 1256.3L291.2 1252.3Z" fill="#f5ff00" stroke="#f5ff00" stroke-width="0.6" fill-rule="evenodd"/>
<path d="M269.3 1238.7L245.4 1230.8L224.8 1222L232.1 1216.6L246.9 1222.9L263.4 1228.8L281.7 1234.3L299.1 1238.6L318.6 1242.7L341.1 1246.5L363 1249.4L386.5 1251.7L410.5 1253.2L436.1 1253.9L463.7 1253.7L488.6 1252.5L511.3 1250.6L535.5 1247.6L557.4 1243.9L580 1239L590.6 1245.4L574 1249.3L556 1252.8L536.5 1255.8L515.4 1258.3L492.5 1260.2L471.9 1261.2L430.3 1261.5L408.9 1260.7L387.2 1259.3L366.8 1257.4L344.6 1254.6L323.7 1251.3L304.3 1247.5L286.1 1243.3Z" fill="#fff800" stroke="#fff800" stroke-width="0.6" fill-rule="evenodd"/>
<path d="M289 1236.2L274.6 1232.3L259.1 1227.4L244.9 1222.1L232.1 1216.6L239.8 1211.1L254.7 1217.3L269.1 1222.4L287.4 1227.7L304.8 1232L323.7 1235.9L344.1 1239.2L366 1242.1L386.2 1244L411 1245.5L436.4 1246.2L459.3 1245.9L484.1 1244.8L506.7 1242.9L527.4 1240.4L549.3 1236.7L569 1232.5L580 1239L563.3 1242.8L548.3 1245.6L528.8 1248.6L511.3 1250.6L475.1 1253.3L436.1 1253.9L397.2 1252.4L359.8 1249L323.5 1243.6L307 1240.4Z" fill="#ffe700" stroke="#ffe700" stroke-width="0.6" fill-rule="evenodd"/>
<path d="M278 1225.1L258.6 1218.8L239.8 1211.1L247.9 1205.5L260.8 1210.9L275.2 1215.9L291.1 1220.6L308.4 1224.8L327.1 1228.6L344.5 1231.5L363 1234L382.9 1236L405.4 1237.5L431.2 1238.3L454.3 1238.1L475.2 1237.3L498 1235.5L518.7 1233L537.6 1230L557.4 1225.9L569 1232.5L552.2 1236.2L537 1238.9L517.3 1241.7L499.4 1243.6L461.4 1245.9L423.2 1246L382.8 1243.7L347.1 1239.7L329.4 1236.9L310.1 1233.2L294.7 1229.6Z" fill="#ffd600" stroke="#ffd600" stroke-width="0.6" fill-rule="evenodd"/>
<path d="M293.4 1221.2L268.9 1213.8L247.9 1205.5L256.3 1199.8L269.4 1205.1L281.7 1209.3L297.6 1213.9L312.4 1217.5L345.4 1223.7L380.4 1227.9L404.3 1229.5L425.2 1230.2L448.5 1230.2L469.2 1229.4L488.6 1227.9L509.5 1225.6L528.3 1222.6L545.3 1219.2L557.4 1225.9L528.4 1231.6L494.4 1235.8L462.4 1237.9L426.3 1238.2L389.9 1236.5L356.7 1233.2L324.4 1228.1Z" fill="#ffc500" stroke="#ffc500" stroke-width="0.6" fill-rule="evenodd"/>
<path d="M302.4 1215.2L277.5 1208L256.3 1199.8L265.4 1194.1L276.5 1198.5L288.8 1202.7L302.3 1206.6L316.9 1210.2L347 1215.8L378.3 1219.6L396.4 1221L418.3 1221.9L439.2 1222.1L459 1221.5L478.4 1220.2L496.1 1218.4L515.3 1215.7L532.4 1212.3L545.3 1219.2L519.2 1224.2L488.6 1227.9L457.2 1229.9L425.2 1230.2L392.8 1228.8L360.7 1225.8L331.1 1221.3Z" fill="#ffb400" stroke="#ffb400" stroke-width="0.6" fill-rule="evenodd"/>
<path d="M304.6 1207.2L284.6 1201.4L265.4 1194.1L275.1 1188.2L296.5 1196L322.2 1202.7L349.3 1207.7L380 1211.5L414.7 1213.5L434 1213.7L452.2 1213.2L470.9 1212L488.4 1210.3L504.3 1208L518.5 1205.2L532.4 1212.3L506 1217.1L478.4 1220.2L448.2 1221.9L418.3 1221.9L388.6 1220.5L359 1217.5L330 1212.9Z" fill="#ffa300" stroke="#ffa300" stroke-width="0.6" fill-rule="evenodd"/>
<path d="M322.2 1202.7L296.5 1196L275.1 1188.2L285.6 1182.1L305.1 1189.1L325.9 1194.5L349.8 1199.1L377.3 1202.6L409.6 1204.7L443.6 1204.6L458.9 1203.8L476.1 1202.2L492 1200L503.4 1197.9L518.5 1205.2L498.1 1208.9L473.2 1211.8L447.2 1213.4L421.2 1213.6L394.5 1212.6L370.7 1210.5L346.4 1207.3Z" fill="#ff9200" stroke="#ff9200" stroke-width="0.6" fill-rule="evenodd"/>
<path d="M333.5 1196.1L307.3 1189.7L294.9 1185.7L285.6 1182.1L297.5 1175.8L315 1181.9L333.3 1186.6L354.5 1190.6L375.6 1193.4L407.2 1195.6L435.3 1195.6L461.9 1193.8L486.5 1190.2L503.4 1197.9L485.9 1201L465.6 1203.3L442.3 1204.7L419.7 1204.9L398 1204.2L374 1202.3L352.6 1199.5Z" fill="#ff8000" stroke="#ff8000" stroke-width="0.6" fill-rule="evenodd"/>
<path d="M335.8 1187.2L315 1181.9L297.5 1175.8L311.3 1169L324.6 1173.7L337.9 1177.3L353 1180.4L370.1 1183L395.3 1185.3L420.7 1185.9L444.7 1184.8L466.9 1181.9L486.5 1190.2L468.6 1193.1L451.1 1194.8L431 1195.7L412.3 1195.7L392.5 1194.8L372.4 1193.1L354.5 1190.6Z" fill="#ff6f00" stroke="#ff6f00" stroke-width="0.6" fill-rule="evenodd"/>
<path d="M340.3 1177.9L324.6 1173.7L311.3 1169L328.8 1161.4L337.9 1164.8L350.9 1168.3L366.2 1171.2L381.1 1173.1L398.4 1174.4L413.2 1174.6L429.1 1173.9L442.1 1172.4L466.9 1181.9L451.6 1184.1L437.3 1185.3L420.7 1185.9L404.1 1185.7L386.1 1184.6L370.1 1183L355.7 1180.9Z" fill="#ff5e00" stroke="#ff5e00" stroke-width="0.6" fill-rule="evenodd"/>
<path d="M355.7 1169.4L339.9 1165.4L328.8 1161.4L344.8 1155.5L360.8 1150.5L364.1 1152.9L371.3 1155.5L384.1 1157.8L398.1 1158.5L420.8 1165.2L442.1 1172.4L421.6 1174.3L398.5 1174.4L377.9 1172.8Z" fill="#ff4d00" stroke="#ff4d00" stroke-width="0.6" fill-rule="evenodd"/>
<path d="M375.9 1156.5L369.2 1154.9L364.1 1152.9L360.8 1150.5L362.7 1150L380.6 1154L398.1 1158.5L387.2 1158.1Z" fill="#ff3c00" stroke="#ff3c00" stroke-width="0.6" fill-rule="evenodd"/>
<path d="M361.9 1484.3L341.9 1468.9L321.8 1453.6L301.7 1438.8L281.5 1424.5L261.4 1410.8L241.2 1397.8L220.9 1385.6L200.7 1374.4L180.5 1364.3L160.3 1355.3L140.1 1347.5L120.1 1341L100.1 1336M361.9 1484.3L382 1460.8L402.3 1438.5L422.6 1417.4L443 1397.5L463.5 1378.8L484 1361.2L504.6 1344.8L525.2 1329.5L545.8 1315.3L566.5 1302.3L587.1 1290.3L607.7 1279.4L628.3 1269.6M366 1479.5L346 1464L325.9 1448.9L305.8 1434.1L285.6 1419.9L265.4 1406.2L245.2 1393.3L225 1381.2L204.7 1370.1L184.5 1360L164.3 1351L144.1 1343.3L124 1336.9L104 1331.9M357.8 1481.2L378 1457.7L398.2 1435.5L418.5 1414.4L438.9 1394.5L459.4 1375.8L479.9 1358.2L500.5 1341.8L521.1 1326.6L541.8 1312.4L562.4 1299.4L583 1287.5L603.6 1276.7L624.2 1266.9M370.1 1474.6L350 1459.3L330 1444.2L309.8 1429.5L289.7 1415.3L269.5 1401.7L249.2 1388.9L229 1376.8L208.7 1365.8L188.5 1355.7L168.3 1346.8L148.1 1339.1L128 1332.7L108 1327.8M353.8 1478L373.9 1454.6L394.1 1432.4L414.5 1411.4L434.9 1391.5L455.3 1372.8L475.9 1355.3L496.4 1338.9L517 1323.7L537.7 1309.6L558.3 1296.6L578.9 1284.7L599.5 1273.9L620.1 1264.2M374.2 1469.9L354.1 1454.6L334 1439.5L313.9 1424.9L293.7 1410.7L273.5 1397.2L253.3 1384.5L233 1372.5L212.8 1361.5L192.5 1351.5L172.3 1342.6L152.1 1334.9L132 1328.6L112 1323.7M349.7 1474.9L369.8 1451.5L390.1 1429.4L410.4 1408.4L430.8 1388.5L451.2 1369.9L471.8 1352.4L492.3 1336L512.9 1320.8L533.6 1306.7L554.2 1293.7L574.8 1281.9L595.5 1271.2L616.1 1261.5M378.3 1465.1L358.2 1449.9L338.1 1434.9L318 1420.3L297.8 1406.3L277.6 1392.8L257.3 1380.1L237.1 1368.2L216.8 1357.2L196.6 1347.3L176.3 1338.4L156.1 1330.8L136 1324.5L115.9 1319.6M345.6 1471.7L365.8 1448.4L386 1426.3L406.3 1405.4L426.7 1385.6L447.2 1366.9L467.7 1349.5L488.2 1333.1L508.9 1317.9L529.5 1303.9L550.1 1291L570.8 1279.1L591.4 1268.5L612 1258.9M382.4 1460.5L362.3 1445.3L342.2 1430.3L322.1 1415.8L301.9 1401.8L281.7 1388.4L261.4 1375.8L241.1 1363.9L220.9 1353L200.6 1343.1L180.3 1334.3L160.1 1326.7L140 1320.4L119.9 1315.5M341.6 1468.6L361.7 1445.4L381.9 1423.3L402.2 1402.4L422.6 1382.6L443.1 1364L463.6 1346.6L484.2 1330.3L504.8 1315.1L525.4 1301.1L546 1288.2L566.7 1276.4L587.3 1265.8L607.9 1256.3M386.5 1455.8L366.4 1440.7L346.3 1425.8L326.1 1411.3L306 1397.4L285.7 1384.1L265.5 1371.5L245.2 1359.7L224.9 1348.8L204.6 1339L184.4 1330.2L164.2 1322.7L144 1316.4L123.9 1311.5M337.5 1465.5L357.6 1442.3L377.8 1420.3L398.1 1399.4L418.5 1379.7L439 1361.1L459.5 1343.7L480.1 1327.4L500.7 1312.3L521.3 1298.3L541.9 1285.4L562.6 1273.7L583.2 1263.1L603.8 1253.6M390.6 1451.3L370.5 1436.2L350.4 1421.3L330.2 1406.9L310 1393L289.8 1379.8L269.5 1367.2L249.3 1355.5L229 1344.7L208.7 1334.8L188.4 1326.1L168.2 1318.6L148 1312.4L127.9 1307.5M333.4 1462.4L353.5 1439.3L373.7 1417.3L394 1396.5L414.4 1376.8L434.9 1358.2L455.4 1340.8L476 1324.6L496.6 1309.5L517.2 1295.5L537.8 1282.7L558.5 1271L579.1 1260.5L599.7 1251.1M394.7 1446.8L374.6 1431.7L354.5 1416.9L334.3 1402.6L314.1 1388.7L293.9 1375.5L273.6 1363L253.3 1351.3L233 1340.5L212.7 1330.8L192.4 1322.1L172.2 1314.6L152 1308.4L131.9 1303.5M329.3 1459.3L349.4 1436.2L369.6 1414.3L389.9 1393.5L410.3 1373.9L430.8 1355.4L451.3 1338L471.8 1321.8L492.5 1306.7L513.1 1292.8L533.7 1280L554.4 1268.3L575 1257.8L595.6 1248.5M398.8 1442.3L378.7 1427.2L358.6 1412.5L338.4 1398.2L318.2 1384.4L298 1371.3L277.7 1358.8L257.4 1347.2L237.1 1336.5L216.8 1326.7L196.5 1318.1L176.2 1310.6L156 1304.4L135.9 1299.6M325.3 1456.2L345.4 1433.2L365.5 1411.3L385.8 1390.6L406.2 1371L426.7 1352.5L447.2 1335.2L467.7 1319L488.3 1303.9L509 1290L529.6 1277.3L550.3 1265.7L570.9 1255.2L591.5 1246M402.9 1437.9L382.8 1422.9L362.7 1408.2L342.5 1393.9L322.3 1380.2L302.1 1367.1L281.8 1354.7L261.5 1343.1L241.1 1332.4L220.8 1322.7L200.5 1314.1L180.3 1306.7L160 1300.5L139.9 1295.7M321.2 1453.2L341.3 1430.2L361.5 1408.4L381.7 1387.7L402.1 1368.1L422.6 1349.7L443.1 1332.4L463.6 1316.2L484.2 1301.2L504.9 1287.3L525.5 1274.6L546.2 1263.1L566.8 1252.7L587.4 1243.4M407 1433.5L387 1418.5L366.8 1403.9L346.6 1389.7L326.4 1376L306.2 1362.9L285.9 1350.6L265.5 1339L245.2 1328.4L224.9 1318.8L204.6 1310.2L184.3 1302.8L164.1 1296.6L143.9 1291.8M317.1 1450.1L337.2 1427.2L357.4 1405.5L377.6 1384.8L398 1365.3L418.4 1346.9L439 1329.6L459.5 1313.4L480.1 1298.5L500.8 1284.6L521.4 1272L542.1 1260.5L562.7 1250.1L583.3 1241M411.2 1429.2L391.1 1414.2L370.9 1399.7L350.8 1385.5L330.5 1371.8L310.3 1358.8L290 1346.5L269.6 1335L249.3 1324.4L229 1314.8L208.6 1306.3L188.3 1298.9L168.1 1292.8L147.9 1287.9M313 1447.1L333.1 1424.3L353.3 1402.6L373.5 1381.9L393.9 1362.4L414.3 1344.1L434.8 1326.8L455.4 1310.7L476 1295.8L496.6 1282L517.3 1269.3L538 1257.9L558.6 1247.6L579.2 1238.5M415.3 1424.9L395.2 1410L375.1 1395.5L354.9 1381.3L334.6 1367.7L314.4 1354.8L294.1 1342.5L273.7 1331.1L253.4 1320.5L233 1310.9L212.7 1302.4L192.4 1295.1L172.1 1288.9L151.9 1284.1M308.9 1444.1L329 1421.3L349.2 1399.7L369.4 1379.1L389.8 1359.6L410.2 1341.3L430.7 1324.1L451.3 1308L471.9 1293.1L492.5 1279.3L513.2 1266.7L533.8 1255.3L554.5 1245.1L575.1 1236.1M419.4 1420.6L399.3 1405.8L379.2 1391.3L359 1377.2L338.8 1363.7L318.5 1350.8L298.2 1338.5L277.8 1327.1L257.5 1316.6L237.1 1307.1L216.8 1298.6L196.4 1291.3L176.2 1285.1L156 1280.3M304.8 1441.1L324.9 1418.4L345.1 1396.8L365.3 1376.3L385.7 1356.8L406.1 1338.5L426.6 1321.3L447.2 1305.3L467.8 1290.4L488.4 1276.7L509.1 1264.2L529.7 1252.8L550.4 1242.6L571 1233.6M423.6 1416.5L403.5 1401.7L383.3 1387.2L363.1 1373.2L342.9 1359.7L322.6 1346.8L302.3 1334.6L281.9 1323.2L261.6 1312.8L241.2 1303.3L220.8 1294.8L200.5 1287.5L180.2 1281.4L160 1276.6M300.8 1438.1L320.8 1415.5L341 1393.9L361.2 1373.4L381.6 1354.1L402 1335.8L422.5 1318.6L443.1 1302.6L463.7 1287.8L484.3 1274.1L504.9 1261.6L525.6 1250.3L546.3 1240.2L566.9 1231.2M427.7 1412.3L407.6 1397.6L387.5 1383.1L367.2 1369.1L347 1355.7L326.7 1342.8L306.4 1330.7L286 1319.4L265.6 1309L245.3 1299.5L224.9 1291.1L204.6 1283.8L184.3 1277.7L164 1272.8M296.7 1435.2L316.7 1412.6L336.9 1391.1L357.1 1370.7L377.5 1351.3L397.9 1333.1L418.4 1316L438.9 1300L459.5 1285.2L480.2 1271.5L500.8 1259.1L521.5 1247.8L542.1 1237.7L562.8 1228.9M431.9 1408.3L411.7 1393.5L391.6 1379.1L371.4 1365.2L351.1 1351.8L330.8 1339L310.5 1326.9L290.1 1315.6L269.7 1305.2L249.4 1295.7L229 1287.3L208.6 1280.1L188.3 1274L168.1 1269.1M292.6 1432.2L312.6 1409.7L332.7 1388.3L353 1367.9L373.3 1348.6L393.8 1330.4L414.2 1313.3L434.8 1297.4L455.4 1282.6L476 1269L496.7 1256.6L517.4 1245.3L538 1235.3L558.6 1226.5M436 1404.2L415.9 1389.5L395.7 1375.2L375.5 1361.2L355.2 1347.9L334.9 1335.1L314.6 1323.1L294.2 1311.8L273.9 1301.5L253.5 1292L233.1 1283.7L212.7 1276.4L192.4 1270.3L172.1 1265.5M288.5 1429.3L308.5 1406.9L328.6 1385.5L348.9 1365.2L369.2 1345.9L389.6 1327.7L410.1 1310.7L430.7 1294.8L451.3 1280L471.9 1266.5L492.6 1254.1L513.2 1242.9L533.9 1233L554.5 1224.2M440.2 1400.2L420 1385.6L399.9 1371.2L379.6 1357.4L359.4 1344L339.1 1331.3L318.7 1319.3L298.3 1308.1L278 1297.8L257.6 1288.4L237.2 1280L216.8 1272.8L196.5 1266.7L176.2 1261.9M284.4 1426.5L304.4 1404.1L324.5 1382.7L344.8 1362.4L365.1 1343.2L385.5 1325.1L406 1308.1L426.5 1292.2L447.1 1277.5L467.8 1264L488.4 1251.6L509.1 1240.5L529.8 1230.6L550.4 1221.9M444.3 1396.3L424.2 1381.7L404 1367.4L383.8 1353.5L363.5 1340.2L343.2 1327.6L322.8 1315.6L302.5 1304.4L282.1 1294.1L261.7 1284.8L241.3 1276.4L220.9 1269.2L200.5 1263.1L180.2 1258.3M280.3 1423.6L300.3 1401.3L320.4 1380L340.7 1359.8L361 1340.6L381.4 1322.5L401.9 1305.5L422.4 1289.7L443 1275L463.6 1261.5L484.3 1249.2L505 1238.1L525.6 1228.3L546.3 1219.7M448.5 1392.4L428.3 1377.8L408.2 1363.5L387.9 1349.7L367.7 1336.5L347.3 1323.8L327 1311.9L306.6 1300.8L286.2 1290.5L265.8 1281.2L245.4 1272.9L225 1265.7L204.6 1259.6L184.3 1254.8M276.2 1420.8L296.2 1398.5L316.3 1377.3L336.5 1357.1L356.9 1338L377.3 1319.9L397.7 1303L418.3 1287.2L438.9 1272.5L459.5 1259.1L480.2 1246.8L500.8 1235.8L521.5 1226L542.1 1217.5M452.6 1388.6L432.5 1374L412.3 1359.8L392.1 1346L371.8 1332.8L351.5 1320.2L331.1 1308.3L310.7 1297.2L290.3 1286.9L269.9 1277.6L249.5 1269.4L229.1 1262.2L208.7 1256.1L188.4 1251.3M272.1 1418L292.1 1395.8L312.2 1374.6L332.4 1354.5L352.7 1335.4L373.1 1317.3L393.6 1300.4L414.1 1284.7L434.7 1270.1L455.4 1256.7L476 1244.4L496.7 1233.5L517.4 1223.7L538 1215.2M456.8 1384.8L436.7 1370.2L416.5 1356L396.2 1342.3L375.9 1329.1L355.6 1316.5L335.2 1304.7L314.9 1293.6L294.4 1283.4L274 1274.1L253.6 1265.9L233.2 1258.7L212.8 1252.6L192.4 1247.8M268 1415.2L288 1393.1L308.1 1372L328.3 1351.8L348.6 1332.8L369 1314.8L389.5 1297.9L410 1282.2L430.6 1267.6L451.2 1254.3L471.9 1242.1L492.5 1231.2L513.2 1221.5L533.9 1213.1M460.9 1381.1L440.8 1366.5L420.6 1352.3L400.4 1338.6L380.1 1325.5L359.8 1313L339.4 1301.1L319 1290.1L298.6 1279.9L278.1 1270.7L257.7 1262.5L237.3 1255.3L216.9 1249.2L196.5 1244.4M263.9 1412.4L283.9 1390.4L304 1369.3L324.2 1349.3L344.5 1330.3L364.9 1312.3L385.3 1295.5L405.9 1279.8L426.5 1265.2L447.1 1251.9L467.7 1239.8L488.4 1228.9L509.1 1219.3L529.7 1210.9M465.1 1377.4L445 1362.8L424.8 1348.7L404.5 1335L384.3 1321.9L363.9 1309.4L343.5 1297.6L323.1 1286.6L302.7 1276.5L282.2 1267.3L261.8 1259.1L241.4 1251.9L221 1245.9L200.6 1241M259.8 1409.7L279.8 1387.7L299.8 1366.7L320 1346.7L340.3 1327.7L360.7 1309.8L381.2 1293L401.7 1277.4L422.3 1262.9L442.9 1249.6L463.6 1237.5L484.3 1226.6L504.9 1217.1L525.6 1208.8M469.3 1373.7L449.1 1359.2L429 1345.1L408.7 1331.5L388.4 1318.4L368.1 1305.9L347.7 1294.2L327.3 1283.2L306.8 1273.1L286.4 1263.9L265.9 1255.7L245.5 1248.6L225.1 1242.5L204.7 1237.7M255.7 1407L275.6 1385.1L295.7 1364.2L315.9 1344.2L336.2 1325.3L356.6 1307.4L377 1290.6L397.6 1275L418.2 1260.5L438.8 1247.3L459.4 1235.2L480.1 1224.4L500.8 1214.9L521.4 1206.7M473.4 1370.1L453.3 1355.6L433.1 1341.6L412.9 1328L392.6 1314.9L372.2 1302.5L351.8 1290.8L331.4 1279.9L311 1269.8L290.5 1260.6L270 1252.4L249.6 1245.3L229.2 1239.3L208.8 1234.4M251.6 1404.4L271.5 1382.5L291.6 1361.6L311.8 1341.7L332.1 1322.8L352.5 1305L372.9 1288.3L393.4 1272.7L414 1258.2L434.6 1245L455.3 1233L476 1222.2L496.6 1212.8L517.3 1204.6M477.6 1366.6L457.5 1352.1L437.3 1338.1L417 1324.5L396.7 1311.5L376.4 1299.1L356 1287.4L335.6 1276.5L315.1 1266.5L294.6 1257.3L274.2 1249.2L253.7 1242L233.3 1236L212.9 1231.2M247.5 1401.7L267.4 1380L287.5 1359.1L307.7 1339.2L327.9 1320.4L348.3 1302.6L368.8 1285.9L389.3 1270.3L409.9 1255.9L430.5 1242.8L451.1 1230.8L471.8 1220.1L492.5 1210.7L513.1 1202.6M481.8 1363.1L461.6 1348.6L441.5 1334.6L421.2 1321.1L400.9 1308.1L380.5 1295.8L360.1 1284.1L339.7 1273.2L319.3 1263.2L298.8 1254.1L278.3 1245.9L257.8 1238.8L237.4 1232.8L217 1228M243.4 1399.2L263.3 1377.4L283.4 1356.6L303.5 1336.8L323.8 1318L344.2 1300.2L364.6 1283.6L385.1 1268.1L405.7 1253.7L426.3 1240.5L447 1228.6L467.7 1218L488.3 1208.6L509 1200.6M486 1359.6L465.8 1345.2L445.6 1331.2L425.4 1317.7L405.1 1304.8L384.7 1292.5L364.3 1280.8L343.9 1270L323.4 1260L302.9 1250.9L282.4 1242.8L262 1235.7L241.5 1229.7L221.1 1224.8M239.3 1396.6L259.2 1374.9L279.2 1354.2L299.4 1334.4L319.7 1315.6L340 1297.9L360.5 1281.3L381 1265.8L401.6 1251.5L422.2 1238.4L442.8 1226.5L463.5 1215.9L484.2 1206.6L504.8 1198.6M490.1 1356.2L470 1341.8L449.8 1327.9L429.5 1314.4L409.2 1301.5L388.9 1289.2L368.5 1277.6L348 1266.8L327.6 1256.8L307.1 1247.8L286.6 1239.7L266.1 1232.6L245.6 1226.6L225.2 1221.7M235.2 1394.1L255.1 1372.5L275.1 1351.8L295.3 1332L315.5 1313.3L335.9 1295.6L356.3 1279L376.8 1263.6L397.4 1249.3L418 1236.2L438.7 1224.4L459.3 1213.8L480 1204.6L500.7 1196.6M494.3 1352.8L474.2 1338.5L454 1324.6L433.7 1311.1L413.4 1298.2L393 1286L372.6 1274.4L352.2 1263.7L331.7 1253.7L311.2 1244.7L290.7 1236.6L270.2 1229.5L249.7 1223.5L229.3 1218.6M231 1391.6L251 1370.1L271 1349.4L291.1 1329.7L311.4 1311L331.7 1293.4L352.2 1276.8L372.7 1261.4L393.2 1247.1L413.9 1234.1L434.5 1222.3L455.2 1211.8L475.9 1202.6L496.5 1194.7M498.5 1349.5L478.4 1335.2L458.2 1321.3L437.9 1307.9L417.6 1295L397.2 1282.8L376.8 1271.3L356.4 1260.6L335.9 1250.7L315.4 1241.6L294.9 1233.6L274.4 1226.5L253.9 1220.5L233.4 1215.6M226.9 1389.1L246.8 1367.7L266.9 1347.1L287 1327.4L307.3 1308.8L327.6 1291.2L348 1274.6L368.5 1259.2L389.1 1245L409.7 1232L430.3 1220.2L451 1209.8L471.7 1200.6L492.4 1192.8M502.7 1346.3L482.5 1332L462.3 1318.1L442.1 1304.7L421.8 1291.9L401.4 1279.7L381 1268.2L360.5 1257.5L340 1247.6L319.5 1238.7L299 1230.6L278.5 1223.5L258 1217.6L237.5 1212.7M222.8 1386.7L242.7 1365.3L262.7 1344.8L282.9 1325.2L303.1 1306.6L323.4 1289L343.9 1272.5L364.4 1257.1L384.9 1242.9L405.5 1229.9L426.2 1218.2L446.9 1207.8L467.5 1198.7L488.2 1191M506.9 1343L486.7 1328.8L466.5 1314.9L446.3 1301.6L425.9 1288.8L405.6 1276.7L385.1 1265.2L364.7 1254.5L344.2 1244.7L323.7 1235.7L303.2 1227.7L282.7 1220.6L262.1 1214.6L241.7 1209.8M218.7 1384.4L238.6 1363L258.6 1342.5L278.7 1322.9L299 1304.4L319.3 1286.8L339.7 1270.4L360.2 1255L380.8 1240.9L401.4 1227.9L422 1216.2L442.7 1205.8L463.4 1196.8L484 1189.1M511 1339.9L490.9 1325.6L470.7 1311.8L450.4 1298.5L430.1 1285.7L409.7 1273.6L389.3 1262.2L368.9 1251.6L348.4 1241.8L327.9 1232.8L307.3 1224.8L286.8 1217.8L266.3 1211.8L245.8 1206.9M214.6 1382L234.5 1360.7L254.5 1340.3L274.6 1320.8L294.8 1302.2L315.1 1284.7L335.6 1268.3L356 1253L376.6 1238.8L397.2 1225.9L417.9 1214.3L438.5 1203.9L459.2 1194.9L479.9 1187.3M515.2 1336.7L495.1 1322.5L474.9 1308.7L454.6 1295.5L434.3 1282.7L413.9 1270.7L393.5 1259.3L373 1248.7L352.5 1238.9L332 1230L311.5 1222L291 1215L270.4 1209L249.9 1204.1M210.5 1379.7L230.4 1358.5L250.4 1338.1L270.5 1318.6L290.7 1300.1L311 1282.6L331.4 1266.2L351.9 1250.9L372.4 1236.8L393 1224L413.7 1212.4L434.4 1202.1L455 1193.1L475.7 1185.6M519.4 1333.7L499.3 1319.5L479.1 1305.7L458.8 1292.5L438.5 1279.8L418.1 1267.7L397.7 1256.4L377.2 1245.8L356.7 1236.1L336.2 1227.2L315.7 1219.2L295.1 1212.2L274.6 1206.2L254.1 1201.3M206.4 1377.5L226.3 1356.3L246.2 1335.9L266.3 1316.5L286.5 1298L306.8 1280.6L327.2 1264.2L347.7 1249L368.3 1234.9L388.9 1222L409.5 1210.5L430.2 1200.2L450.9 1191.3L471.5 1183.8M523.6 1330.6L503.5 1316.5L483.3 1302.7L463 1289.5L442.7 1276.9L422.3 1264.9L401.9 1253.6L381.4 1243L360.9 1233.3L340.4 1224.4L319.8 1216.5L299.3 1209.5L278.7 1203.5L258.2 1198.6M202.3 1375.3L222.1 1354.1L242.1 1333.8L262.2 1314.4L282.4 1296L302.7 1278.6L323.1 1262.2L343.6 1247L364.1 1233L384.7 1220.2L405.3 1208.6L426 1198.4L446.7 1189.5L467.4 1182.1M527.8 1327.6L507.7 1313.5L487.4 1299.8L467.2 1286.6L446.9 1274L426.5 1262.1L406 1250.8L385.6 1240.3L365.1 1230.6L344.5 1221.7L324 1213.8L303.4 1206.8L282.9 1200.9L262.4 1196M198.2 1373.1L218 1352L238 1331.8L258.1 1312.4L278.3 1294L298.5 1276.6L318.9 1260.3L339.4 1245.1L359.9 1231.1L380.5 1218.3L401.2 1206.8L421.8 1196.6L442.5 1187.8L463.2 1180.4M532 1324.7L511.8 1310.6L491.6 1296.9L471.4 1283.8L451 1271.2L430.7 1259.3L410.2 1248.1L389.8 1237.6L369.3 1227.9L348.7 1219.1L328.2 1211.2L307.6 1204.2L287 1198.3L266.5 1193.4M194.1 1371L213.9 1349.9L233.9 1329.7L253.9 1310.4L274.1 1292L294.4 1274.7L314.8 1258.4L335.2 1243.2L355.8 1229.2L376.4 1216.5L397 1205L417.7 1194.9L438.3 1186.1L459 1178.8M536.2 1321.8L516 1307.7L495.8 1294.1L475.6 1281L455.2 1268.4L434.9 1256.6L414.4 1245.4L393.9 1234.9L373.4 1225.3L352.9 1216.5L332.3 1208.6L311.8 1201.7L291.2 1195.7L270.7 1190.8M190 1368.9L209.8 1347.9L229.7 1327.8L249.8 1308.5L270 1290.1L290.2 1272.8L310.6 1256.5L331.1 1241.4L351.6 1227.4L372.2 1214.7L392.8 1203.3L413.5 1193.2L434.2 1184.4L454.8 1177.2M540.4 1319L520.2 1304.9L500 1291.3L479.8 1278.2L459.4 1265.7L439 1253.9L418.6 1242.7L398.1 1232.3L377.6 1222.7L357.1 1214L336.5 1206.1L315.9 1199.2L295.4 1193.2L274.8 1188.3M185.9 1366.9L205.7 1345.9L225.6 1325.8L245.7 1306.6L265.8 1288.3L286.1 1270.9L306.5 1254.7L326.9 1239.6L347.4 1225.6L368 1212.9L388.6 1201.5L409.3 1191.5L430 1182.8L450.7 1175.6M544.5 1316.2L524.4 1302.1L504.2 1288.6L483.9 1275.5L463.6 1263.1L443.2 1251.3L422.8 1240.1L402.3 1229.8L381.8 1220.2L361.3 1211.5L340.7 1203.6L320.1 1196.7L299.5 1190.8L279 1185.9M181.7 1364.9L201.5 1344L221.5 1323.9L241.5 1304.7L261.7 1286.4L281.9 1269.1L302.3 1252.9L322.7 1237.8L343.3 1223.9L363.8 1211.2L384.5 1199.9L405.1 1189.8L425.8 1181.2L446.5 1174M548.7 1313.4L528.6 1299.4L508.4 1285.9L488.1 1272.9L467.8 1260.5L447.4 1248.7L427 1237.6L406.5 1227.3L386 1217.7L365.4 1209L344.9 1201.2L324.3 1194.3L303.7 1188.4L283.1 1183.5M177.6 1362.9L197.4 1342.1L217.4 1322.1L237.4 1302.9L257.5 1284.6L277.8 1267.4L298.1 1251.2L318.6 1236.1L339.1 1222.2L359.7 1209.6L380.3 1198.2L400.9 1188.2L421.6 1179.6L442.3 1172.5M552.9 1310.7L532.8 1296.7L512.6 1283.2L492.3 1270.3L472 1257.9L451.6 1246.2L431.2 1235.1L410.7 1224.8L390.2 1215.3L369.6 1206.7L349.1 1198.9L328.5 1192L307.9 1186.1L287.3 1181.2M173.5 1361L193.3 1340.3L213.2 1320.3L233.3 1301.1L253.4 1282.9L273.6 1265.6L294 1249.5L314.4 1234.4L334.9 1220.5L355.5 1207.9L376.1 1196.6L396.8 1186.6L417.4 1178.1L438.1 1171M557.1 1308L537 1294.1L516.8 1280.6L496.5 1267.7L476.2 1255.4L455.8 1243.7L435.4 1232.7L414.9 1222.4L394.4 1213L373.8 1204.3L353.2 1196.6L332.7 1189.7L312.1 1183.8L291.5 1178.9M169.4 1359.2L189.2 1338.5L209.1 1318.5L229.1 1299.4L249.2 1281.2L269.5 1264L289.8 1247.8L310.2 1232.8L330.7 1218.9L351.3 1206.3L371.9 1195L392.6 1185.1L413.2 1176.6L433.9 1169.6M561.3 1305.4L541.2 1291.5L521 1278.1L500.7 1265.2L480.4 1252.9L460 1241.3L439.6 1230.3L419.1 1220.1L398.6 1210.7L378 1202.1L357.4 1194.3L336.8 1187.5L316.2 1181.6L295.7 1176.7M165.3 1357.4L185.1 1336.7L205 1316.8L225 1297.7L245.1 1279.5L265.3 1262.3L285.7 1246.2L306.1 1231.2L326.6 1217.3L347.1 1204.8L367.7 1193.5L388.4 1183.6L409.1 1175.1L429.7 1168.1M565.5 1302.8L545.4 1289L525.2 1275.6L504.9 1262.7L484.6 1250.5L464.2 1238.9L443.8 1228L423.3 1217.8L402.8 1208.4L382.2 1199.9L361.6 1192.1L341 1185.3L320.4 1179.5L299.8 1174.6M161.2 1355.6L181 1335L200.9 1315.1L220.9 1296.1L241 1277.9L261.2 1260.7L281.5 1244.6L301.9 1229.6L322.4 1215.8L342.9 1203.2L363.6 1192L384.2 1182.1L404.9 1173.7L425.6 1166.7M569.7 1300.3L549.6 1286.5L529.4 1273.1L509.1 1260.3L488.8 1248.1L468.4 1236.6L448 1225.7L427.5 1215.6L407 1206.2L386.4 1197.7L365.8 1190L345.2 1183.2L324.6 1177.4L304 1172.5M157.1 1354L176.9 1333.4L196.7 1313.5L216.7 1294.5L236.8 1276.3L257 1259.2L277.3 1243.1L297.7 1228.1L318.2 1214.3L338.8 1201.7L359.4 1190.5L380 1180.7L400.7 1172.3L421.4 1165.4M573.9 1297.8L553.8 1284L533.6 1270.7L513.3 1258L493 1245.8L472.6 1234.3L452.2 1223.5L431.7 1213.4L411.2 1204.1L390.6 1195.6L370 1187.9L349.4 1181.2L328.8 1175.4L308.2 1170.5M153 1352.3L172.8 1331.8L192.6 1311.9L212.6 1292.9L232.7 1274.8L252.9 1257.7L273.2 1241.6L293.6 1226.6L314 1212.8L334.6 1200.3L355.2 1189.1L375.8 1179.3L396.5 1170.9L417.2 1164.1M578.1 1295.4L558 1281.6L537.8 1268.4L517.5 1255.7L497.2 1243.6L476.8 1232.1L456.4 1221.3L435.9 1211.3L415.4 1202L394.8 1193.5L374.2 1185.9L353.6 1179.2L333 1173.4L312.4 1168.5M149 1350.7L168.7 1330.2L188.5 1310.4L208.5 1291.4L228.5 1273.3L248.7 1256.2L269 1240.1L289.4 1225.2L309.9 1211.4L330.4 1198.9L351 1187.7L371.6 1177.9L392.3 1169.6L413 1162.8M582.3 1293L562.1 1279.3L542 1266.1L521.7 1253.4L501.4 1241.3L481 1229.9L460.6 1219.2L440.1 1209.2L419.6 1200L399 1191.6L378.4 1184L357.8 1177.3L337.2 1171.5L316.6 1166.6M144.9 1349.2L164.6 1328.7L184.4 1308.9L204.3 1290L224.4 1271.9L244.6 1254.8L264.9 1238.7L285.2 1223.8L305.7 1210L326.2 1197.5L346.8 1186.4L367.5 1176.6L388.1 1168.3L408.8 1161.5M586.4 1290.7L566.3 1277L546.2 1263.8L525.9 1251.2L505.6 1239.2L485.2 1227.8L464.8 1217.1L444.3 1207.2L423.8 1198L403.2 1189.6L382.6 1182.1L362 1175.4L341.4 1169.6L320.7 1164.8M140.8 1347.7L160.5 1327.3L180.3 1307.5L200.2 1288.6L220.3 1270.5L240.4 1253.4L260.7 1237.3L281.1 1222.4L301.5 1208.7L322 1196.2L342.6 1185L363.3 1175.3L383.9 1167L404.6 1160.3M590.6 1288.3L570.5 1274.7L550.4 1261.6L530.1 1249L509.8 1237.1L489.4 1225.8L469 1215.1L448.5 1205.2L428 1196.1L407.4 1187.8L386.8 1180.2L366.2 1173.6L345.5 1167.8L324.9 1163M136.7 1346.3L156.4 1325.9L176.2 1306.2L196.1 1287.2L216.1 1269.2L236.3 1252.1L256.5 1236L276.9 1221.1L297.3 1207.4L317.9 1194.9L338.4 1183.8L359.1 1174.1L379.7 1165.8L400.4 1159.1M594.8 1286.1L574.7 1272.5L554.5 1259.4L534.3 1246.9L514 1235L493.6 1223.8L473.2 1213.2L452.7 1203.3L432.2 1194.2L411.6 1185.9L391 1178.5L370.4 1171.8L349.7 1166.1L329.1 1161.3M132.6 1344.9L152.3 1324.5L172 1304.8L192 1285.9L212 1267.9L232.1 1250.8L252.4 1234.7L272.7 1219.8L293.2 1206.1L313.7 1193.6L334.3 1182.5L354.9 1172.8L375.5 1164.6L396.2 1158M599 1283.9L578.9 1270.3L558.7 1257.3L538.5 1244.9L518.2 1233L497.8 1221.8L477.4 1211.3L456.9 1201.5L436.4 1192.4L415.8 1184.2L395.2 1176.7L374.6 1170.2L353.9 1164.5L333.3 1159.7M128.5 1343.6L148.2 1323.2L167.9 1303.6L187.8 1284.7L207.9 1266.6L228 1249.6L248.2 1233.5L268.6 1218.6L289 1204.9L309.5 1192.4L330.1 1181.3L350.7 1171.7L371.4 1163.5L392 1156.8M603.2 1281.7L583.1 1268.2L562.9 1255.2L542.7 1242.8L522.4 1231L502 1219.9L481.6 1209.4L461.1 1199.7L440.6 1190.7L420 1182.5L399.4 1175.1L378.8 1168.5L358.1 1162.9L337.5 1158.1M124.4 1342.3L144.1 1322L163.8 1302.4L183.7 1283.5L203.7 1265.5L223.8 1248.4L244.1 1232.3L264.4 1217.4L284.8 1203.7L305.3 1191.3L325.9 1180.2L346.5 1170.5L367.2 1162.4L387.8 1155.8M607.4 1279.6L587.3 1266.1L567.1 1253.2L546.9 1240.9L526.6 1229.1L506.2 1218L485.8 1207.6L465.3 1197.9L444.8 1189L424.2 1180.8L403.6 1173.5L383 1167L362.3 1161.3L341.7 1156.6M120.4 1341.1L140 1320.8L159.7 1301.2L179.6 1282.3L199.6 1264.3L219.7 1247.2L239.9 1231.2L260.2 1216.3L280.7 1202.6L301.1 1190.1L321.7 1179.1L342.3 1169.4L363 1161.3L383.6 1154.7M611.6 1277.5L591.5 1264.1L571.3 1251.2L551.1 1239L530.8 1227.3L510.4 1216.3L490 1205.9L469.5 1196.3L449 1187.4L428.4 1179.3L407.8 1172L387.2 1165.5L366.5 1159.8L345.9 1155.1M116.3 1340L135.9 1319.7L155.6 1300.1L175.5 1281.2L195.5 1263.2L215.6 1246.2L235.8 1230.1L256.1 1215.2L276.5 1201.5L297 1189.1L317.5 1178L338.1 1168.4L358.8 1160.2L379.4 1153.7M615.7 1275.5L595.7 1262.1L575.5 1249.3L555.3 1237.1L535 1225.5L514.6 1214.5L494.2 1204.2L473.7 1194.6L453.2 1185.8L432.6 1177.7L412 1170.5L391.4 1164L370.7 1158.4L350.1 1153.7M112.2 1338.9L131.8 1318.7L151.5 1299.1L171.4 1280.2L191.3 1262.2L211.4 1245.1L231.6 1229.1L251.9 1214.2L272.3 1200.4L292.8 1188L313.3 1177L333.9 1167.3L354.6 1159.2L375.3 1152.7M619.9 1273.5L599.8 1260.2L579.7 1247.4L559.5 1235.3L539.2 1223.7L518.8 1212.8L498.4 1202.6L477.9 1193.1L457.4 1184.3L436.8 1176.3L416.2 1169.1L395.6 1162.7L374.9 1157.1L354.3 1152.4M108.2 1337.9L127.7 1317.7L147.4 1298.1L167.3 1279.2L187.2 1261.2L207.3 1244.1L227.5 1228.1L247.8 1213.2L268.1 1199.4L288.6 1187L309.2 1176L329.8 1166.4L350.4 1158.3L371.1 1151.8M624.1 1271.5L604 1258.3L583.9 1245.6L563.6 1233.5L543.3 1222L523 1211.2L502.6 1201L482.1 1191.6L461.6 1182.8L441 1174.9L420.4 1167.7L399.8 1161.4L379.1 1155.8L358.5 1151.2M104.1 1336.9L123.7 1316.7L143.4 1297.1L163.2 1278.3L183.1 1260.3L203.2 1243.2L223.3 1227.1L243.6 1212.2L264 1198.5L284.4 1186.1L305 1175L325.6 1165.4L346.2 1157.3L366.9 1150.9M628.3 1269.6L608.2 1256.5L588.1 1243.8L567.8 1231.8L547.5 1220.4L527.2 1209.6L506.8 1199.5L486.3 1190.1L465.8 1181.5L445.2 1173.6L424.6 1166.4L404 1160.1L383.3 1154.6L362.7 1150M100.1 1336L119.6 1315.8L139.3 1296.3L159.1 1277.4L179 1259.4L199 1242.3L219.2 1226.3L239.4 1211.3L259.8 1197.6L280.3 1185.2L300.8 1174.1L321.4 1164.5L342 1156.4L362.7 1150" fill="none" stroke="#000" stroke-width="0.92"/>
<text x="92.6" y="1449.6" font-size="21" text-anchor="end" fill="#000" color="#000" >0.6</text>
<text x="90.8" y="1411.9" font-size="21" text-anchor="end" fill="#000" color="#000" >0.7</text>
<text x="88.9" y="1374.1" font-size="21" text-anchor="end" fill="#000" color="#000" >0.8</text>
<text x="87.1" y="1336.4" font-size="21" text-anchor="end" fill="#000" color="#000" >0.9</text>
<text x="85.3" y="1298.7" font-size="21" text-anchor="end" fill="#000" color="#000" >1</text>
<text x="83.5" y="1261" font-size="21" text-anchor="end" fill="#000" color="#000" >1.1</text>
<text x="81.6" y="1223.2" font-size="21" text-anchor="end" fill="#000" color="#000" >1.2</text>
<text x="79.8" y="1185.5" font-size="21" text-anchor="end" fill="#000" color="#000" >1.3</text>
<text transform="translate(17.2,1501.1) rotate(-90)" font-size="20.5" textLength="263" lengthAdjust="spacingAndGlyphs">TP content (g GAE/100g DW)</text>
<text x="72.5" y="1556.2" font-size="21" text-anchor="start" fill="#000" color="#000" >60</text>
<text x="136" y="1585.9" font-size="21" text-anchor="start" fill="#000" color="#000" >55</text>
<text x="198.7" y="1615.9" font-size="21" text-anchor="start" fill="#000" color="#000" >50</text>
<text x="261.2" y="1646.3" font-size="21" text-anchor="start" fill="#000" color="#000" >45</text>
<text x="324.3" y="1677.3" font-size="21" text-anchor="start" fill="#000" color="#000" >40</text>
<text x="61.9" y="1649" font-size="21" text-anchor="start" fill="#000" color="#000" textLength="112.8" lengthAdjust="spacingAndGlyphs">Temperature</text>
<text x="185.6" y="1649.1" font-size="18"><tspan font-weight="bold">(</tspan><tspan font-size="19" style="font-family:'Noto Sans CJK SC',sans-serif">℃</tspan><tspan font-weight="bold">)</tspan></text>
<text x="390.9" y="1676.9" font-size="21" text-anchor="start" fill="#000" color="#000" >1:10</text>
<text x="444.6" y="1657.5" font-size="21" text-anchor="start" fill="#000" color="#000" >1:15</text>
<text x="507.1" y="1628.2" font-size="21" text-anchor="start" fill="#000" color="#000" >1:20</text>
<text x="566.6" y="1597.5" font-size="21" text-anchor="start" fill="#000" color="#000" >1:25</text>
<text x="622.3" y="1566.8" font-size="21" text-anchor="start" fill="#000" color="#000" >1:30</text>
<text x="503.4" y="1659.9" font-size="21" text-anchor="start" fill="#000" color="#000" textLength="103.2" lengthAdjust="spacingAndGlyphs">Solid/liquid</text>
<text x="612" y="1661.3" font-size="18.5" text-anchor="start" fill="#000" color="#000" textLength="96.9" lengthAdjust="spacingAndGlyphs">ratio (g/mL)</text>
<text x="638.3" y="1158.2" font-size="30" text-anchor="start" fill="#000" color="#000" >C</text>
<text x="664.8" y="1319.9" font-size="20.5" text-anchor="start" fill="#000" color="#000" textLength="270.7" lengthAdjust="spacingAndGlyphs">TP content (g GAE/100g DW)</text>
<defs><linearGradient id="lg1108" x1="0" y1="0" x2="0" y2="1"><stop offset="0" stop-color="#ff0000"/><stop offset="0.5" stop-color="#00ff00"/><stop offset="1" stop-color="#0000ff"/></linearGradient></defs>
<rect x="670.2" y="1327.9" width="15.8" height="71.5" fill="url(#lg1108)" stroke="#202020" stroke-width="1"/>
<text x="693.3" y="1344.1" font-size="20" text-anchor="start" fill="#ff0000" color="#ff0000" >1.28</text>
<text x="693.1" y="1393.7" font-size="20" text-anchor="start" fill="#0000ff" color="#0000ff" >0.68425</text>
</svg></body></html>
